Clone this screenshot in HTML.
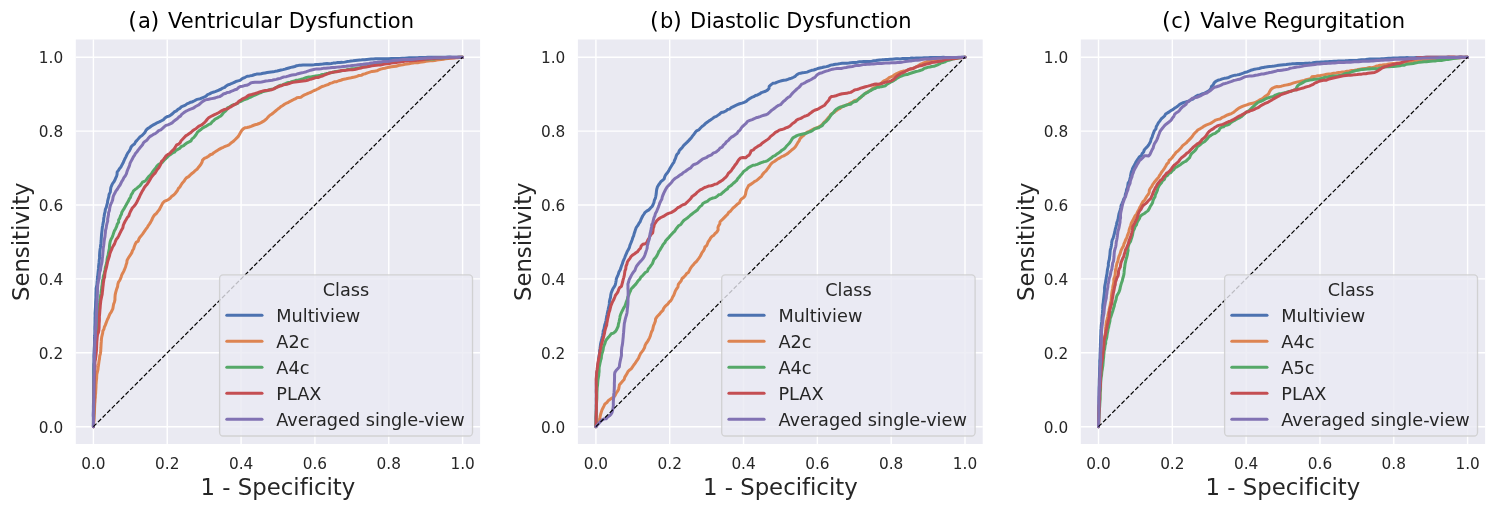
<!DOCTYPE html><html><head><meta charset="utf-8"><title>ROC curves</title><style>html,body{margin:0;padding:0;background:#fff;}svg{display:block;will-change:transform;}text{font-family:'DejaVu Sans', 'Liberation Sans', sans-serif;fill:#262626;font-variant-ligatures:none;font-feature-settings:"liga" 0,"clig" 0;}</style></head><body>
<svg width="1500" height="507" viewBox="0 0 1500 507">
<rect x="0" y="0" width="1500" height="507" fill="#ffffff"/>
<g>
<rect x="75.8" y="39.5" width="404.3" height="404.5" fill="#EAEAF2"/>
<line x1="93.4" y1="39.5" x2="93.4" y2="444" stroke="#fff" stroke-width="1.4"/>
<line x1="75.8" y1="426.7" x2="480.1" y2="426.7" stroke="#fff" stroke-width="1.4"/>
<line x1="167.24" y1="39.5" x2="167.24" y2="444" stroke="#fff" stroke-width="1.4"/>
<line x1="75.8" y1="352.8" x2="480.1" y2="352.8" stroke="#fff" stroke-width="1.4"/>
<line x1="241.08" y1="39.5" x2="241.08" y2="444" stroke="#fff" stroke-width="1.4"/>
<line x1="75.8" y1="278.9" x2="480.1" y2="278.9" stroke="#fff" stroke-width="1.4"/>
<line x1="314.92" y1="39.5" x2="314.92" y2="444" stroke="#fff" stroke-width="1.4"/>
<line x1="75.8" y1="205" x2="480.1" y2="205" stroke="#fff" stroke-width="1.4"/>
<line x1="388.76" y1="39.5" x2="388.76" y2="444" stroke="#fff" stroke-width="1.4"/>
<line x1="75.8" y1="131.1" x2="480.1" y2="131.1" stroke="#fff" stroke-width="1.4"/>
<line x1="462.6" y1="39.5" x2="462.6" y2="444" stroke="#fff" stroke-width="1.4"/>
<line x1="75.8" y1="57.2" x2="480.1" y2="57.2" stroke="#fff" stroke-width="1.4"/>
<path d="M93.4,426.7 L93.41,424.6 L93.44,422.34 L93.44,420.18 L93.36,417.79 L93.28,415.75 L93.33,413.61 L93.4,411.38 L93.42,409.1 L93.39,406.77 L93.44,404.42 L93.52,402.06 L93.5,399.71 L93.61,397.39 L93.59,395.11 L93.6,392.9 L93.69,390.78 L93.66,388.74 L93.64,386.71 L93.67,384.69 L93.67,382.66 L93.64,380.64 L93.66,378.61 L93.67,376.59 L93.68,374.56 L93.64,372.54 L93.61,370.51 L93.65,368.49 L93.68,366.46 L93.71,364.44 L93.92,362.42 L93.94,360.39 L93.92,358.37 L93.85,356.34 L93.93,354.31 L94.07,352.29 L94.14,350.24 L94.25,348.17 L94.42,346.08 L94.48,343.97 L94.52,341.85 L94.51,339.72 L94.51,337.59 L94.71,335.48 L94.8,333.37 L94.85,331.28 L94.77,329.21 L94.8,327.17 L94.9,325.17 L94.97,322.72 L94.98,320.34 L94.98,318.04 L95.11,315.85 L95.02,313.45 L95.2,311.18 L95.34,309.03 L95.5,306.96 L95.56,304.48 L95.63,302.08 L95.8,299.72 L95.95,297.36 L95.93,294.97 L96.01,292.52 L96.14,290.49 L96.11,288.47 L96.53,286.5 L96.94,284.5 L97.08,282.47 L97.26,280.42 L97.38,278.37 L97.69,276.33 L97.91,274.28 L98.11,272.23 L98.34,270.19 L98.55,268.16 L98.61,266.13 L98.86,264.13 L99.09,262.13 L99.23,260.03 L99.63,257.94 L99.52,255.8 L99.66,253.69 L99.8,251.59 L100.06,249.52 L100.46,247.47 L100.59,245.43 L100.91,243.45 L101.14,241 L101.28,238.61 L101.43,236.18 L101.6,233.88 L101.88,231.63 L102.14,229.42 L102.35,227.26 L102.74,225.18 L103.06,223.17 L103.64,220.81 L103.7,218.52 L104.11,216.45 L104.47,213.92 L105.06,211.84 L105.35,209.48 L106.29,207.39 L106.83,205.03 L107.41,203.06 L107.66,200.94 L108.19,198.88 L108.75,196.88 L109.09,194.48 L110.3,192.16 L110.53,189.96 L110.86,187.5 L111.83,185.2 L112.69,183.35 L113.98,181.77 L114.94,179.99 L115.66,178.12 L116.51,176.28 L117.08,174.3 L117.15,172.11 L118.42,170.34 L119.64,168.44 L121.1,166.72 L121.97,164.88 L123.02,163.06 L123.95,160.95 L124.76,158.98 L125.91,156.86 L126.79,154.87 L127.84,152.84 L129.24,151.11 L130.39,148.88 L131.16,146.86 L132.65,145.31 L134.46,144.11 L135.54,141.83 L136.95,140.4 L138.48,138.61 L140.12,136.69 L142.02,135.54 L143.71,133.82 L145.08,132.2 L146.08,130.16 L147.65,128.63 L149.48,127.49 L151.44,125.96 L153.34,124.86 L155.24,123.9 L157,122.78 L159.25,121.89 L161.5,120.72 L163.56,119.63 L164.96,117.94 L166.87,116.76 L169.07,116.12 L170.83,115.03 L172.76,113.49 L174.36,111.88 L176.44,110.82 L177.97,109.32 L179.83,108.35 L181.3,106.9 L183.12,106.02 L185.39,105.09 L186.95,103.87 L188.84,103.1 L190.69,102.2 L192.67,101.68 L194.5,100.74 L196.33,99.67 L198.32,99.14 L200.39,98.74 L202.32,97.87 L204.2,97 L206.12,96.15 L207.61,94.57 L209.54,93.88 L211.31,92.87 L213.22,92.19 L215.17,91.6 L217.05,90.83 L218.98,90.02 L220.93,89.26 L222.71,88.09 L224.71,87.36 L226.21,85.93 L227.97,84.9 L230.01,84.22 L231.89,83.45 L233.68,82.66 L235.79,81.56 L238.09,80.92 L240.07,80.42 L241.38,79.34 L243.36,78.1 L245.2,77.28 L247.24,76.26 L249.64,75.9 L252.02,75.45 L254.22,74.76 L256.61,74.1 L259.11,73.99 L261.11,73.75 L263.1,73.27 L265.12,72.92 L267.14,72.58 L269.13,72.21 L271.12,71.91 L273.18,71.85 L275.15,71.35 L277.14,71.05 L279.1,70.53 L281.06,70.04 L283.05,69.64 L285.02,69.11 L286.95,68.47 L288.88,67.94 L290.83,67.36 L292.84,66.92 L294.86,66.5 L296.79,65.67 L298.84,65.36 L300.9,65.2 L302.95,64.98 L305,64.93 L307.5,64.93 L310,64.95 L312.02,64.93 L314.08,64.81 L316.19,64.57 L318.31,64.5 L320.75,64.25 L322.79,64.04 L324.87,63.72 L327,63.58 L329.16,63.7 L331.27,63.54 L333.3,63.1 L335.77,62.9 L337.77,62.49 L339.85,62.46 L342.28,62.37 L344.62,62.13 L346.96,61.6 L348.95,61.37 L351.07,60.99 L353.09,60.78 L355.35,60.48 L357.68,60.22 L360.1,60.12 L362.58,59.77 L364.64,59.65 L366.74,59.39 L368.92,59.2 L371.15,59.01 L373.33,58.97 L375.63,58.78 L377.99,58.68 L380.42,58.71 L382.9,58.69 L384.92,58.68 L386.98,58.64 L389.07,58.68 L391.17,58.55 L393.31,58.6 L395.47,58.53 L397.64,58.46 L399.84,58.5 L402.22,58.24 L404.65,58.2 L407.12,57.92 L409.12,57.83 L411.15,57.86 L413.2,57.81 L415.25,57.76 L417.32,57.66 L419.38,57.55 L421.46,57.48 L423.53,57.45 L425.59,57.4 L427.65,57.29 L429.69,57.22 L431.73,57.17 L433.84,57.23 L436.06,57.25 L438.34,57.16 L440.68,57.21 L443.04,57.24 L445.39,57.18 L447.72,57.12 L450,57.1 L452.2,57.18 L454.29,57.2 L456.73,57.23 L458.92,57.2 L461.14,57.2 L462.6,57.2" fill="none" stroke="#4C72B0" stroke-width="3.0" stroke-linejoin="round" stroke-linecap="round"/>
<path d="M93.4,426.7 L93.6,424.3 L93.79,421.96 L94.01,419.83 L94.17,417.53 L94.25,415.15 L94.4,412.76 L94.51,410.44 L94.56,408.06 L94.68,405.59 L94.78,403.56 L94.99,401.5 L95.06,399.41 L95.34,397.31 L95.36,395.2 L95.64,393.1 L95.71,391.02 L95.86,388.98 L95.97,386.92 L95.98,384.84 L96.18,382.76 L96.32,380.68 L96.63,378.62 L96.7,376.56 L96.79,374.53 L97.35,372.09 L97.93,369.68 L98.13,367.57 L98.45,365.53 L98.7,363.51 L99.05,361.05 L99.52,358.64 L99.72,356.2 L100.34,353.83 L100.67,351.83 L100.77,349.75 L100.92,347.7 L101.02,345.66 L101.12,343.64 L101.29,341.63 L101.4,339.63 L101.69,337.15 L102.17,335.18 L102.67,333.19 L102.86,331.08 L103.9,329.26 L104.34,327.22 L105.2,325.34 L105.95,323.41 L106.66,321.47 L107.41,319.56 L108.36,317.74 L109.06,315.81 L109.92,313.93 L111.17,312.23 L112.03,310.37 L112.88,308.52 L113.27,306.02 L113.67,304.06 L114.39,302.18 L114.94,299.8 L114.97,297.33 L115.17,294.87 L115.58,292.88 L116.14,290.85 L116.72,288.91 L117.6,286.66 L117.88,284.15 L118.46,282.22 L119.68,280.5 L120.51,278.61 L121.25,276.68 L121.85,274.66 L122.94,272.84 L124.03,270.6 L124.8,268.69 L125.61,266.75 L126.12,264.66 L126.84,262.67 L127.03,260.48 L127.96,258.67 L129.24,256.56 L130.6,254.68 L131.81,252.64 L132.54,250.54 L133.65,248.74 L134.23,246.79 L135.09,244.5 L136.15,242.37 L138.22,241.17 L138.88,239.03 L139.89,237.19 L141.28,235.67 L142.55,234.1 L143.72,232.42 L144.9,230.71 L146.01,228.96 L147.37,227.36 L148.32,225.53 L149.54,223.86 L150.65,222.13 L151.66,220.35 L152.46,218.34 L153.49,216.45 L154.74,214.75 L156.42,213.45 L157.89,211.41 L159.24,209.76 L160.42,207.55 L161.56,205.31 L162.59,203.36 L164.29,201.47 L166.66,200.46 L168.42,199.42 L170.12,198.2 L171.55,196.56 L173.3,195.28 L175.1,193.66 L176.31,192 L177.54,190.27 L178.45,188.29 L180.03,186.81 L181.05,184.98 L182.43,182.94 L183.95,181.34 L185.07,179.52 L186.36,177.91 L188.61,176.62 L190.36,174.84 L191.89,173.5 L193.61,172.22 L195.19,170.64 L197.01,169.29 L198.33,167.52 L199.6,165.94 L200.92,164.28 L201.99,162.27 L202.55,160.04 L204.35,158.38 L206.66,157.38 L208.52,156.24 L210.25,154.76 L212.34,154.04 L213.85,152.69 L215.62,151.59 L217.34,150.42 L219.12,149.34 L221.34,148.12 L223.27,147.27 L225.19,146.33 L227.16,145.59 L229.11,144.78 L230.66,143.3 L232.38,142.09 L233.99,140.75 L235.51,139.26 L237.08,137.67 L238.49,136.13 L239.54,134.19 L240.64,132.34 L241.67,130.61 L243.26,128.87 L245.03,127.8 L247.05,127.46 L249.13,127.03 L251.12,126.31 L253.08,125.5 L255.13,124.77 L257.18,124.23 L259.11,123.52 L261.04,122.65 L263.17,121.4 L264.86,120.22 L266.55,118.86 L267.99,117.11 L269.89,115.29 L271.92,114.01 L273.61,112.55 L275.53,110.97 L277.17,109.61 L278.91,108.29 L280.6,106.85 L282.44,105.67 L284.18,104.44 L285.95,103.48 L287.91,102.67 L289.66,101.55 L291.53,100.69 L293.33,99.74 L295.21,98.95 L296.91,97.83 L298.94,97.4 L301.09,97.23 L302.67,95.84 L304.5,94.94 L306.36,94.19 L308.57,93.06 L310.95,92.29 L312.7,91.27 L314.55,90.37 L316.48,89.51 L318.37,88.59 L320.51,87.38 L322.33,86.46 L324.31,85.86 L326.26,85.09 L328.29,84.54 L330.08,83.38 L332.07,82.88 L334.33,81.86 L336.72,81.64 L338.74,80.75 L340.77,80.25 L342.66,79.52 L345.06,79.08 L347.38,78.45 L349.78,78.11 L352.22,77.56 L354.61,77.04 L356.92,76.38 L359.12,75.39 L361.62,75.16 L363.41,74.11 L365.48,73.7 L367.52,72.82 L369.81,72.13 L372.03,71.42 L374.44,71.14 L376.9,70.82 L378.74,69.9 L380.69,69.15 L382.73,68.58 L384.87,68.19 L387.02,67.61 L389.14,67.17 L391.38,66.77 L393.7,66.47 L396.09,66.23 L398.43,65.55 L400.86,65.03 L402.86,64.72 L404.87,64.36 L406.92,64.04 L409,63.73 L411.06,63.24 L413.21,63.09 L415.32,62.56 L417.76,62.68 L419.74,62.28 L421.8,62.03 L423.9,61.68 L426.02,61.25 L428.19,61.02 L430.36,60.71 L432.56,60.79 L434.68,60.49 L436.73,59.97 L438.77,59.78 L441.2,59.55 L443.47,59.15 L445.56,58.81 L448.22,58.56 L450.35,58.37 L452.94,58.05 L455.29,57.83 L457.38,57.71 L459.62,57.48 L461.76,57.27 L462.6,57.2" fill="none" stroke="#DD8452" stroke-width="3.0" stroke-linejoin="round" stroke-linecap="round"/>
<path d="M93.4,426.7 L93.41,424.6 L93.42,422.34 L93.45,420.17 L93.58,417.79 L93.66,415.75 L93.67,413.61 L93.71,411.39 L93.62,409.1 L93.62,406.77 L93.58,404.42 L93.62,402.06 L93.54,399.71 L93.69,397.39 L93.66,395.11 L93.63,392.9 L93.69,390.77 L93.7,388.74 L93.74,386.71 L93.87,384.69 L93.94,382.66 L93.98,380.64 L93.98,378.61 L94.11,376.59 L94.09,374.57 L94.11,372.54 L94.18,370.52 L94.17,368.49 L94.31,366.47 L94.31,364.44 L94.47,362.42 L94.54,360.39 L94.55,358.37 L94.67,356.34 L94.84,354.32 L94.82,352.3 L94.92,350.27 L94.92,348.22 L95.17,346.16 L95.34,344.08 L95.5,341.99 L95.68,339.9 L96.1,337.82 L96.06,335.71 L96.18,333.63 L96.53,331.58 L96.62,329.53 L96.95,327.53 L96.97,325.04 L97.21,322.63 L97.34,320.28 L97.49,318.01 L97.8,315.85 L98.1,313.49 L98.42,311.23 L98.5,309.03 L98.75,306.93 L99.02,304.9 L99.54,302.47 L99.98,300.1 L100.23,297.76 L100.62,295.47 L101.04,293.2 L101.26,290.89 L101.64,288.89 L101.81,286.73 L102.19,284.64 L102.35,282.55 L102.6,280.51 L103.13,278.54 L103.36,276.54 L104.07,274.14 L104.66,271.73 L105.11,269.3 L105.4,267.32 L106.07,265.3 L106.6,263.23 L106.95,261.12 L107.12,258.99 L107.51,256.92 L108.22,254.96 L108.44,252.96 L108.93,250.62 L109.42,248.44 L109.5,245.87 L109.84,243.54 L110.23,241.46 L111.05,239.19 L112.2,237.18 L112.96,235.05 L113.6,233.1 L114.46,230.78 L115.66,228.68 L116.68,226.41 L117.2,224.28 L118.62,222.22 L118.64,219.99 L119.78,218.13 L120.4,216.06 L121.43,214.2 L121.87,212.19 L122.91,210.4 L124.15,208.62 L125.12,206.79 L126.1,205.05 L127.22,202.94 L128.48,200.9 L129.35,198.93 L130.49,197.3 L131.2,194.91 L132.58,192.86 L133.49,190.92 L135.07,189.57 L136.74,188.37 L138.19,186.96 L139.93,185.74 L141.27,184.03 L142.46,182.21 L144.47,181.35 L146.16,180.15 L147.45,178.17 L148.99,176.24 L150.54,174.84 L151.99,172.92 L153.15,171.16 L154.46,169.38 L155.95,167.65 L157.13,165.8 L158.72,164.35 L160.86,163.29 L162.73,161.95 L164.08,160.22 L165.77,158.57 L167.27,157.18 L168.67,155.68 L170.43,154.59 L172.3,153.01 L174.44,152.21 L175.93,150.37 L177.79,149.33 L179.64,148.44 L181.35,146.51 L183.69,145.61 L185.23,144.17 L187.13,142.77 L189.07,141.89 L191,140.85 L191.98,138.84 L193.68,137.59 L194.99,135.99 L196.26,134.28 L197.32,132.4 L198.88,131 L200.89,129.52 L202.43,128.2 L204.17,127.13 L206.37,126.04 L208.44,124.64 L210.39,123.89 L212.09,121.96 L213.63,120.59 L215.13,119.13 L217.13,118.23 L218.88,117.06 L220.8,115.95 L222.28,114.38 L223.54,112.67 L225.08,111.36 L226.48,109.91 L227.54,107.94 L229.34,107 L231.39,105.67 L233.72,104.77 L235.66,104.13 L237.5,103.42 L239.01,101.98 L240.89,101.31 L242.75,100.38 L244.76,99.46 L246.88,98.89 L248.68,97.87 L250.96,97.04 L253.01,95.93 L254.92,95.18 L257.12,94.19 L259.29,93.1 L261.31,92.49 L263.3,91.52 L265.54,91.09 L267.68,90.48 L269.7,89.78 L271.63,89.13 L273.7,88.87 L275.88,87.67 L278.03,86.43 L280.25,85.29 L282.41,85.23 L284.2,84.1 L286.19,83.27 L288.46,82.5 L290.46,82.17 L292.37,81.41 L294.44,81.07 L296.37,80.21 L298.44,79.88 L300.46,79.51 L302.39,79.03 L304.63,78.16 L306.62,77.42 L308.7,77.09 L310.75,76.99 L313.16,76.42 L315.57,76.04 L317.99,75.67 L320.44,75.24 L322.37,74.52 L324.39,74.21 L326.34,73.6 L328.35,73.24 L330.34,72.79 L332.34,72.47 L334.27,71.82 L336.22,71.39 L338.24,71.14 L340.25,70.92 L342.23,70.51 L344.21,70.21 L346.19,69.87 L348.17,69.47 L350.18,69.26 L352.14,68.64 L354.53,68.68 L356.64,68.23 L358.82,68.12 L361.05,67.55 L363.06,67.01 L365.44,66.71 L367.47,66.45 L369.71,65.88 L371.75,65.19 L373.99,64.8 L376.37,64.38 L378.34,63.95 L380.4,63.75 L382.52,63.66 L384.63,63.29 L386.78,63.01 L388.92,62.68 L391.07,62.37 L393.2,62.08 L395.29,61.72 L397.33,61.28 L399.35,61.02 L401.36,60.73 L403.39,60.51 L405.44,60.46 L407.47,60.39 L409.5,60.32 L411.52,60.01 L413.54,59.92 L415.56,59.78 L417.58,59.52 L419.6,59.47 L421.62,59.36 L423.65,59.36 L425.67,59.31 L427.69,59.17 L429.71,59 L431.75,58.96 L433.86,58.89 L436.07,58.63 L438.34,58.28 L440.68,58.14 L443.04,58.11 L445.39,57.78 L447.72,57.68 L449.99,57.62 L452.19,57.44 L454.29,57.49 L456.73,57.4 L458.91,57.31 L461.14,57.24 L462.6,57.2" fill="none" stroke="#55A868" stroke-width="3.0" stroke-linejoin="round" stroke-linecap="round"/>
<path d="M93.4,426.7 L93.48,424.54 L93.55,422.15 L93.62,419.84 L93.62,417.81 L93.61,415.66 L93.71,413.42 L93.72,411.09 L93.87,408.72 L93.91,406.32 L93.94,403.93 L93.98,401.56 L94.22,399.25 L94.14,397.01 L94.05,394.87 L94.13,392.87 L94.14,390.58 L94.16,388.43 L94.18,385.91 L94.21,383.56 L94.3,381.35 L94.47,379.26 L94.43,376.8 L94.63,374.48 L94.65,372.26 L94.77,370.11 L94.87,368 L95.11,365.76 L94.83,363.51 L94.97,361.47 L95.49,359.12 L95.76,356.79 L96.08,354.36 L96.25,352.31 L96.47,350.28 L96.55,348.11 L96.64,345.89 L96.73,343.67 L96.83,341.52 L97.03,339.51 L97.2,337.29 L97.51,334.7 L98.42,332.48 L98.9,329.89 L99.08,327.67 L99.1,325.38 L99.15,323.35 L99.34,321.19 L99.41,318.92 L99.36,316.6 L99.6,314.3 L99.77,312.04 L99.93,309.86 L100.14,307.83 L100.27,305.54 L100.52,303.23 L100.77,300.97 L101.15,298.95 L101.62,296.63 L102.16,294.4 L102.36,292.03 L102.64,289.99 L102.83,287.57 L103.16,285.13 L103.33,283.14 L103.65,281.13 L103.94,279.11 L104.6,277.12 L104.75,275.03 L105.05,272.96 L105.55,270.53 L106.1,268.55 L106.62,266.53 L107.05,264.48 L107.47,262.43 L107.98,260.45 L108.78,258.1 L109.51,255.88 L109.84,253.82 L110.65,251.65 L111.56,249.63 L112.31,247.64 L113.29,245.88 L114.56,243.88 L115.33,241.62 L116.16,239.58 L117.67,237.81 L118.84,235.59 L119.86,233.43 L120.87,231.28 L121.85,229.53 L122.87,227.68 L123.23,225.42 L124.04,223.52 L125.15,221.27 L126.22,219.45 L127.31,217.61 L128.79,215.97 L129.39,213.97 L130.33,211.7 L131.38,209.84 L132.29,207.97 L133.75,206.51 L135.07,204.99 L136.44,202.88 L137.39,201.06 L138.24,199.22 L139.4,197.03 L140.36,194.71 L141.31,192.93 L142.28,191.08 L143.42,189.42 L144.36,187.52 L145.7,185.79 L147.18,184.16 L148.32,182.41 L149.54,180.39 L150.82,178.27 L151.92,176.56 L153.4,174.81 L155.03,173.16 L156.19,171.25 L157.27,169.49 L158.83,167.81 L159.93,165.8 L160.92,163.76 L161.4,161.53 L163.25,159.83 L164.61,157.94 L165.9,155.94 L167.68,154.63 L169.82,153.44 L171.44,151.52 L172.93,150.18 L174.38,148.66 L175.48,146.74 L176.68,144.96 L178.67,144.04 L180.22,142.66 L181.14,140.69 L182.57,139.2 L183.97,137.71 L185.74,135.89 L187.59,134.79 L189.29,133.6 L190.95,132.43 L192.38,130.97 L194.06,129.8 L195.91,128.75 L197.43,127.32 L199.08,126.04 L201.13,125.21 L202.83,123.93 L204.5,122.57 L205.93,120.95 L207.25,119.28 L208.67,117.81 L210.39,116.75 L212.19,115.79 L213.98,114.9 L216.25,113.91 L218.49,112.76 L220.22,111.66 L221.99,110.69 L223.74,109.7 L225.72,109.15 L227.76,108.67 L229.51,107.48 L231.4,106.57 L233.12,105.31 L235.36,104.2 L237.18,103.16 L238.62,101.52 L240.4,100.35 L242.1,99.11 L244.1,98.22 L246.05,97.27 L247.67,95.93 L249.63,94.92 L251.78,94.49 L254.59,93.61 L256.83,93.06 L259.02,92.13 L261.03,91.56 L263.12,90.89 L265.34,90.5 L267.59,90.28 L269.74,89.95 L271.82,89.66 L273.75,88.87 L275.61,87.94 L277.46,86.98 L279.39,86.23 L281.42,85.82 L283.2,84.71 L285.25,84.45 L287.25,84.15 L289.16,83.51 L291.08,82.84 L293.03,82.3 L295.02,82.02 L297.01,81.67 L299.01,81.42 L301.03,81.18 L303.06,80.98 L305.1,80.85 L307.51,80.22 L309.88,79.41 L311.85,78.96 L313.8,78.27 L315.82,77.61 L318.06,77.49 L320.36,76.66 L322.3,76.01 L324.25,75.18 L326.23,74.37 L328.22,73.51 L330.24,72.86 L332.26,72.35 L334.28,72.12 L336.64,71.69 L338.8,71.22 L340.87,70.83 L342.88,70.55 L345.33,70.38 L347.74,70.07 L350.18,69.87 L352.2,69.7 L354.54,69.49 L356.64,68.99 L358.71,68.38 L360.98,67.95 L362.99,67.36 L365.36,67.04 L367.4,66.8 L369.65,66.27 L371.72,65.82 L373.96,65.41 L376.37,65.25 L378.36,65.03 L380.43,64.93 L382.5,64.56 L384.58,63.95 L386.73,63.73 L388.91,63.7 L391.01,63.09 L393.15,62.88 L395.27,62.66 L397.31,62.22 L399.32,61.92 L401.3,61.48 L403.32,61.42 L405.31,61.1 L407.32,61.01 L409.32,60.78 L411.32,60.64 L413.32,60.48 L415.34,60.58 L417.33,60.31 L419.81,60.02 L422.28,59.65 L424.76,59.32 L427.23,58.88 L429.72,58.74 L431.73,58.6 L433.84,58.52 L436.05,58.24 L438.34,58.23 L440.68,58.05 L443.03,57.91 L445.39,57.77 L447.72,57.79 L450,57.75 L452.2,57.66 L454.3,57.63 L456.73,57.46 L458.92,57.36 L461.14,57.26 L462.6,57.2" fill="none" stroke="#C44E52" stroke-width="3.0" stroke-linejoin="round" stroke-linecap="round"/>
<path d="M93.4,426.7 L93.42,424.6 L93.45,422.34 L93.45,420.17 L93.5,417.79 L93.39,415.75 L93.37,413.6 L93.47,411.38 L93.49,409.1 L93.6,406.77 L93.6,404.42 L93.7,402.06 L93.69,399.71 L93.69,397.39 L93.72,395.11 L93.78,392.9 L93.76,390.78 L93.87,388.74 L93.89,386.71 L93.85,384.69 L93.94,382.66 L93.98,380.64 L93.93,378.61 L93.94,376.59 L94.11,374.57 L94.22,372.54 L94.24,370.52 L94.28,368.49 L94.19,366.47 L94.23,364.44 L94.25,362.42 L94.26,360.39 L94.39,358.37 L94.41,356.34 L94.46,354.32 L94.51,352.29 L94.59,350.25 L94.67,348.18 L94.72,346.1 L94.81,344 L94.76,341.89 L95.05,339.79 L95.19,337.68 L95.45,335.59 L95.4,333.49 L95.37,331.4 L95.65,329.35 L95.7,327.31 L95.91,325.31 L96.03,322.85 L96.14,320.44 L96.28,318.11 L96.35,315.85 L96.45,313.54 L96.58,311.31 L96.63,309.15 L96.58,307.04 L96.71,304.99 L96.94,303 L97.1,300.55 L97.13,298.14 L97.35,295.77 L97.38,293.39 L97.48,291.01 L97.46,288.59 L97.63,286.53 L97.79,284.43 L98.24,282.37 L98.53,280.29 L99.21,278.29 L99.26,276.2 L99.47,274.15 L99.72,272.13 L100.45,270.22 L100.71,267.77 L101.19,265.42 L101.74,263.14 L102.1,261.02 L102.27,258.82 L102.56,256.7 L102.77,254.62 L102.9,252.57 L103.1,250.58 L103.23,248.12 L103.66,245.73 L103.95,243.36 L104.19,240.85 L104.5,238.7 L104.95,236.62 L105.14,234.54 L105.41,232.51 L105.48,230.49 L106.16,228.08 L106.48,225.65 L107.06,223.18 L107.7,221.11 L107.64,218.92 L108.08,216.87 L108.47,214.84 L108.59,212.77 L109.47,210.44 L109.74,207.95 L110.22,205.81 L110.97,203.76 L111.87,201.82 L112.63,199.93 L112.99,197.53 L113.6,195.43 L114.78,193.32 L115.83,191.18 L117.31,189.24 L118.34,187.47 L119.81,185.44 L120.78,183.56 L121.66,181.61 L122.86,179.92 L123.91,177.68 L125.21,175.98 L126.37,173.87 L127.06,171.38 L127.81,169.44 L128.87,167.19 L129.56,165.2 L130.1,163.09 L131.09,161.16 L132.17,159.35 L133.22,157.09 L134.62,155.04 L135.62,153.26 L137.07,151.7 L138.31,149.84 L139.82,148 L141.1,146.41 L142.51,144.86 L143.43,142.85 L145,141.43 L146.76,140.29 L148.27,138.29 L149.77,136.68 L151.64,135.63 L153.33,134.45 L155.24,133.65 L157.18,132.13 L158.66,130.65 L160.83,129.83 L162.53,128.34 L164.13,126.9 L165.93,125.41 L167.95,124.88 L170.16,123.92 L172.1,122.88 L173.65,121.44 L175.41,120.01 L177.26,118.73 L178.67,117.16 L180.44,116.1 L181.66,114.36 L183.63,112.84 L185.64,111.41 L187.49,110.52 L189.31,109.6 L191.21,108.9 L193.55,108.02 L195.2,106.75 L196.95,105.73 L198.74,104.83 L200.32,103.5 L201.85,102.07 L203.54,100.92 L205.34,99.87 L207.57,99.6 L209.6,99.02 L211.65,98.62 L213.67,98.2 L215.64,97.68 L217.59,97.09 L219.73,96.65 L221.56,95.56 L223.19,94.04 L225.27,93.58 L227.1,92.56 L229.19,92.29 L231.05,91.35 L233.05,90.68 L234.87,89.78 L236.87,89.21 L238.45,87.59 L240.32,86.53 L242.43,86.2 L244.53,85.61 L246.67,85.34 L248.87,84.34 L250.7,82.98 L252.79,82.41 L254.96,82.15 L257.06,82.32 L259.47,82.19 L261.57,81.95 L263.73,81.5 L265.92,80.96 L268.13,80.74 L270.24,80.45 L272.31,80.22 L274.3,79.64 L276.35,79.38 L278.32,78.79 L280.33,78.36 L282.23,77.5 L284.19,76.88 L286.27,76.68 L288.2,76.11 L290.13,75.5 L292.11,75.08 L294.12,74.76 L296.12,74.41 L298.05,73.71 L300.02,73.21 L302.02,72.84 L303.98,72.33 L306.39,71.68 L308.73,70.83 L310.64,70.18 L312.62,69.71 L314.65,69.28 L316.75,68.89 L318.81,68.95 L321.08,68.69 L323.32,68.37 L325.62,68.24 L328.03,68.02 L330.09,67.84 L332.3,67.45 L334.74,67.41 L337.1,67.13 L339.2,66.91 L341.45,66.77 L343.79,66.49 L346.25,66.3 L348.24,65.91 L350.31,65.75 L352.39,65.51 L354.51,65.35 L356.63,65.09 L358.74,64.69 L360.87,64.5 L362.98,64.32 L365.05,64.02 L367.09,63.71 L369.09,63.39 L371.08,62.98 L373.08,62.72 L375.09,62.38 L377.12,62.33 L379.14,62.08 L381.17,61.9 L383.18,61.58 L385.21,61.46 L387.25,61.44 L389.27,61.25 L391.28,60.89 L393.28,60.53 L395.3,60.35 L397.31,60.23 L399.33,60.1 L401.35,59.83 L403.37,59.58 L405.42,59.59 L407.46,59.6 L409.49,59.43 L411.52,59.43 L413.54,59.2 L415.56,58.99 L417.57,58.71 L419.59,58.58 L421.61,58.44 L423.63,58.33 L425.65,58.16 L427.67,58.07 L429.7,58.1 L431.73,58.06 L433.84,57.84 L436.06,57.86 L438.35,57.8 L440.68,57.67 L443.04,57.56 L445.39,57.43 L447.72,57.43 L450,57.37 L452.2,57.35 L454.29,57.21 L456.73,57.15 L458.91,57.14 L461.14,57.18 L462.6,57.2" fill="none" stroke="#8172B3" stroke-width="3.0" stroke-linejoin="round" stroke-linecap="round"/>
<line x1="93.4" y1="426.7" x2="462.6" y2="57.2" stroke="#000" stroke-width="1.2" stroke-dasharray="4.4 2.1"/>
<rect x="219.6" y="274.9" width="252.9" height="161.1" rx="3.5" ry="3.5" fill="#EAEAF2" fill-opacity="0.8" stroke="#CCCCCC" stroke-opacity="0.85" stroke-width="1.3"/>
<text x="346.05" y="296.0" font-size="17.7" text-anchor="middle">Class</text>
<line x1="226.8" y1="315.3" x2="262" y2="315.3" stroke="#4C72B0" stroke-width="3.0" stroke-linecap="round"/>
<text x="276.3" y="321.9" font-size="17.7">Multiview</text>
<line x1="226.8" y1="341.3" x2="262" y2="341.3" stroke="#DD8452" stroke-width="3.0" stroke-linecap="round"/>
<text x="276.3" y="347.9" font-size="17.7">A2c</text>
<line x1="226.8" y1="367.3" x2="262" y2="367.3" stroke="#55A868" stroke-width="3.0" stroke-linecap="round"/>
<text x="276.3" y="373.9" font-size="17.7">A4c</text>
<line x1="226.8" y1="393.3" x2="262" y2="393.3" stroke="#C44E52" stroke-width="3.0" stroke-linecap="round"/>
<text x="276.3" y="399.9" font-size="17.7">PLAX</text>
<line x1="226.8" y1="419.3" x2="262" y2="419.3" stroke="#8172B3" stroke-width="3.0" stroke-linecap="round"/>
<text x="276.3" y="425.9" font-size="17.7">Averaged single-view</text>
<text x="93.4" y="469.2" font-size="15.3" text-anchor="middle">0.0</text>
<text x="63.2" y="432.9" font-size="15.3" text-anchor="end">0.0</text>
<text x="167.24" y="469.2" font-size="15.3" text-anchor="middle">0.2</text>
<text x="63.2" y="359" font-size="15.3" text-anchor="end">0.2</text>
<text x="241.08" y="469.2" font-size="15.3" text-anchor="middle">0.4</text>
<text x="63.2" y="285.1" font-size="15.3" text-anchor="end">0.4</text>
<text x="314.92" y="469.2" font-size="15.3" text-anchor="middle">0.6</text>
<text x="63.2" y="211.2" font-size="15.3" text-anchor="end">0.6</text>
<text x="388.76" y="469.2" font-size="15.3" text-anchor="middle">0.8</text>
<text x="63.2" y="137.3" font-size="15.3" text-anchor="end">0.8</text>
<text x="462.6" y="469.2" font-size="15.3" text-anchor="middle">1.0</text>
<text x="63.2" y="63.4" font-size="15.3" text-anchor="end">1.0</text>
<text x="277.95" y="494.8" font-size="22.8" text-anchor="middle">1 - Specificity</text>
<text transform="translate(29,241.75) rotate(-90)" x="0" y="0" font-size="22.8" text-anchor="middle">Sensitivity</text>
<text x="128.37" y="28.8" font-size="22.5" style="fill:#000">(</text>
<text x="138.04" y="27.6" font-size="21.0" style="fill:#000">a</text>
<text x="150.5" y="28.8" font-size="22.5" style="fill:#000">)</text>
<text x="168.03" y="27.6" font-size="21.0" style="fill:#000">Ventricular</text>
<text x="288.64" y="27.6" font-size="21.0" style="fill:#000">Dysfunction</text>
</g>
<g>
<rect x="577.9" y="39.5" width="404.8" height="404.5" fill="#EAEAF2"/>
<line x1="595.9" y1="39.5" x2="595.9" y2="444" stroke="#fff" stroke-width="1.4"/>
<line x1="577.9" y1="426.7" x2="982.7" y2="426.7" stroke="#fff" stroke-width="1.4"/>
<line x1="669.72" y1="39.5" x2="669.72" y2="444" stroke="#fff" stroke-width="1.4"/>
<line x1="577.9" y1="352.8" x2="982.7" y2="352.8" stroke="#fff" stroke-width="1.4"/>
<line x1="743.54" y1="39.5" x2="743.54" y2="444" stroke="#fff" stroke-width="1.4"/>
<line x1="577.9" y1="278.9" x2="982.7" y2="278.9" stroke="#fff" stroke-width="1.4"/>
<line x1="817.36" y1="39.5" x2="817.36" y2="444" stroke="#fff" stroke-width="1.4"/>
<line x1="577.9" y1="205" x2="982.7" y2="205" stroke="#fff" stroke-width="1.4"/>
<line x1="891.18" y1="39.5" x2="891.18" y2="444" stroke="#fff" stroke-width="1.4"/>
<line x1="577.9" y1="131.1" x2="982.7" y2="131.1" stroke="#fff" stroke-width="1.4"/>
<line x1="965" y1="39.5" x2="965" y2="444" stroke="#fff" stroke-width="1.4"/>
<line x1="577.9" y1="57.2" x2="982.7" y2="57.2" stroke="#fff" stroke-width="1.4"/>
<path d="M595.9,426.7 L595.93,424.41 L595.94,422.25 L595.94,419.73 L595.9,417.51 L596.1,415.15 L596.14,412.68 L596.16,410.15 L596.23,407.8 L596.22,405.54 L596.29,403.08 L596.26,401.01 L596.23,398.87 L596.29,396.69 L596.35,394.48 L596.25,392.28 L596.29,390.11 L596.33,387.98 L596.34,385.94 L596.29,383.53 L596.41,381.32 L596.48,379.15 L596.67,376.73 L596.98,374.61 L597.08,372.23 L597.46,370 L597.63,367.69 L597.91,365.7 L598.41,363.72 L598.4,361.24 L598.71,359.21 L598.83,357.11 L599.29,355.03 L599.67,352.96 L599.59,350.87 L600.02,348.44 L600.32,346.16 L600.56,343.98 L601.05,341.87 L601.63,339.92 L602.09,337.57 L602.69,335.3 L603.02,332.93 L603.25,330.9 L604.01,328.95 L604.34,326.92 L604.72,324.91 L605.4,322.98 L606.01,320.57 L606.34,318.58 L606.62,316.55 L607.09,314.61 L607.57,312.17 L608.12,309.74 L608.5,307.73 L609.09,305.77 L609.33,303.67 L609.43,301.53 L609.87,299.47 L610.5,297.53 L610.73,295.17 L611.18,292.99 L611.93,291.08 L612.87,288.83 L614.33,286.71 L615.29,284.86 L615.72,282.77 L616.1,280.65 L616.41,278.59 L617.38,276.49 L618.21,274.53 L618.83,272.31 L620.09,270.11 L620.84,268.12 L621.47,265.77 L622.34,263.85 L622.95,261.72 L623.86,259.63 L624.77,257.5 L625.59,255.3 L626.59,253.04 L627.38,251.17 L628.49,249.38 L629.41,247.5 L629.91,245.44 L630.71,243.51 L631.45,241.61 L632.17,239.71 L632.77,237.74 L633.62,235.85 L634.1,233.82 L634.82,231.9 L635.36,229.95 L636.17,227.64 L637.69,225.66 L638.77,223.72 L640.04,221.92 L640.79,219.95 L641.63,218.12 L642.66,215.99 L643.88,214.24 L645.06,212.41 L646.68,211.13 L648.85,209.87 L650.61,207.92 L652.24,206.46 L653.14,204.5 L653.94,202.45 L654.37,200.21 L655.31,198.32 L655.8,196.26 L656.19,194.08 L656.38,191.9 L656.68,189.48 L657.35,187.03 L658.41,185.22 L659.68,183.5 L660.9,181.72 L662.48,180.38 L664.16,178.91 L664.77,176.65 L665.76,174.68 L667.37,172.81 L668.53,171.15 L669.45,169.3 L670.51,167.51 L671.56,165.72 L672.63,163.96 L673.88,162.29 L674.55,160.26 L675.49,158.38 L676.1,156.34 L676.9,154.46 L678.55,152.64 L679.38,150.48 L680.88,148.91 L682.28,147.4 L683.75,145.41 L685.63,143.63 L687.2,142.12 L688.67,140.62 L690.04,139.14 L691.38,137.66 L692.61,135.88 L693.99,134.23 L695.17,132.53 L696.5,130.88 L698.74,129.91 L700.27,128.25 L702,126.54 L703.9,125.08 L705.4,123.58 L707.19,122.27 L709.03,120.86 L710.8,119.76 L712.75,118.38 L714.3,117.08 L716.38,116.36 L718.09,115.13 L719.79,113.92 L721.26,112.44 L723.87,111.91 L725.8,111.01 L727.45,109.56 L729.58,109.09 L731.19,107.68 L733.36,106.57 L735.34,105.6 L737.42,104.67 L739.67,103.74 L742,103.16 L744.09,102.4 L746.2,101.45 L748.09,99.73 L749.84,98.57 L751.67,97.41 L753.74,96.66 L755.47,95.49 L757.58,94.93 L759.62,93.97 L761.49,92.57 L763.59,91.87 L765.52,91.21 L767.41,90.14 L769.04,88.46 L769.2,86.27 L770.83,84.85 L772.82,83.35 L775.27,82.99 L777.26,82.2 L779.35,81.38 L781.55,80.8 L783.73,80.28 L785.91,80.04 L787.84,79.44 L789.7,78.68 L791.65,78.14 L793.48,77.27 L795.26,76.31 L796.81,74.76 L798.55,73.66 L800.52,73.16 L802.53,72.79 L804.59,72.54 L807.09,72.14 L809.38,71.17 L811.72,70.31 L813.72,69.96 L815.66,69.28 L817.62,68.54 L819.94,67.98 L822.11,67.5 L824.25,66.97 L826.49,66.63 L828.8,65.94 L830.76,65.11 L833.02,64.76 L835.51,64.27 L837.8,63.99 L839.96,63.61 L842.25,63.2 L844.7,63.26 L846.72,63.18 L848.77,63.02 L850.86,62.69 L852.99,62.56 L855.13,62.42 L857.28,62.21 L859.41,61.79 L861.56,61.76 L863.68,61.62 L865.77,61.54 L867.81,61.49 L869.84,61.41 L871.86,61.19 L873.86,60.8 L875.87,60.61 L877.88,60.36 L879.88,60.09 L881.89,59.87 L883.91,59.81 L885.92,59.6 L887.94,59.57 L889.93,59.2 L891.95,59.15 L893.96,58.89 L895.99,58.83 L898.02,58.85 L900.05,58.89 L902.54,58.59 L905.03,58.54 L907.53,58.41 L910.03,58.31 L912.02,58.09 L914.03,58.19 L916.03,58.11 L918.03,58 L920.04,58.03 L922.05,57.95 L924.06,57.71 L926.08,57.66 L928.1,57.65 L930.12,57.54 L932.15,57.56 L934.21,57.47 L936.38,57.55 L938.63,57.51 L940.93,57.43 L943.28,57.37 L945.64,57.43 L947.99,57.52 L950.3,57.46 L952.55,57.42 L954.73,57.48 L956.79,57.46 L959.2,57.42 L961.35,57.37 L963.55,57.26 L965,57.2" fill="none" stroke="#4C72B0" stroke-width="3.0" stroke-linejoin="round" stroke-linecap="round"/>
<path d="M595.9,426.7 L597.3,424.69 L598.21,422.58 L599.45,420.43 L599.89,418.32 L600.14,416.34 L600.66,414.26 L601.3,412.17 L601.92,410.17 L602.96,407.94 L604.02,405.91 L604.94,403.92 L606.91,402.54 L608.14,400.72 L609.89,399.54 L612.01,398.05 L613.79,397.03 L615.15,395.28 L616.18,393.13 L617.39,391.4 L618.56,389.48 L619.01,387.38 L619.45,384.7 L621.17,382.87 L622.7,380.95 L624.19,379.45 L624.79,377.1 L625.91,375.35 L627.04,373.54 L627.94,371.55 L629.71,369.91 L631.33,368.7 L632.56,366.88 L633.79,365.02 L635.05,363.37 L636.29,361.46 L637.43,359.9 L638.64,358.02 L639.45,355.78 L640.54,353.53 L641.86,351.89 L643.23,350.01 L644.5,347.84 L645.02,345.71 L645.9,343.74 L647.25,341.99 L648.38,340.12 L649.5,337.86 L650.34,335.97 L650.88,333.92 L651.49,331.87 L652.61,329.98 L653.04,327.9 L653.48,325.88 L654.44,323.61 L655.35,321.25 L655.61,318.9 L656.76,317.11 L658.16,315.56 L659.57,314.09 L661.04,312.08 L662.93,310.37 L663.67,308.33 L664.92,306.64 L666.48,305.24 L668.05,303.85 L669.13,302.06 L670.75,300.74 L671.86,299.04 L672.66,297.04 L673.86,295.11 L674.62,292.89 L675.46,290.79 L676.5,288.99 L677.86,287.21 L678.31,284.48 L679.62,282.71 L681.21,280.75 L682.09,278.5 L683.91,277 L685.47,275.34 L686.61,273.6 L688.44,272.39 L689.45,270.43 L690.32,268.53 L691.74,266.51 L693.34,264.72 L694.59,263.11 L696.2,261.78 L697.68,259.78 L699.17,257.85 L700.23,256.23 L701.12,254.48 L702.03,252.64 L703.36,250.92 L704.37,249.03 L704.93,247 L706.74,245.53 L707.52,243.56 L708.27,241.61 L709.51,240.03 L710.73,237.83 L712.16,236.27 L713.9,235.14 L715.13,233.48 L716.77,232.1 L718.13,229.86 L717.97,227.56 L718.69,225.56 L719.81,223.91 L720.02,221.75 L721.49,220.28 L723.01,218.89 L724.48,217.4 L725.93,215.88 L727.51,214.47 L728.6,212.56 L730.39,211.2 L731.71,209.64 L733.02,208.03 L734.68,206.81 L736.11,205.37 L737.64,203.94 L739.37,202.81 L740.22,200.73 L741.46,198.96 L743.4,197.74 L744.78,196.21 L745.55,194.19 L745.89,192.07 L746.37,190.05 L747.45,187.91 L748.59,185.63 L750.67,184.36 L752.67,183.09 L754.37,181.68 L756.64,180.51 L758.22,179.07 L759.87,177.68 L761.48,176.34 L762.52,174.55 L763.79,172.95 L765.4,171.5 L766.76,169.92 L767.91,168.35 L769.31,166.48 L770.58,164.44 L772.15,162.74 L774.27,161.54 L776.05,160.22 L777.91,158.83 L780.01,157.87 L781.65,156.57 L783.76,155.86 L785.69,154.72 L787.61,153.6 L789.25,152.15 L790.78,150.87 L792.38,149.47 L794.02,148.35 L795.39,146.85 L796.47,144.92 L797.67,142.89 L799.11,140.9 L800.05,138.68 L801.73,136.86 L803.5,135.53 L805.17,133.67 L807.12,132.19 L809.4,131.35 L811.14,130.32 L812.97,129.3 L814.91,128.39 L817.03,127.76 L819.06,126.92 L820.78,125.62 L822.4,124.34 L823.96,122.39 L825.46,121.05 L826.89,119.56 L828.12,117.85 L829.68,116.43 L830.74,114.54 L832.46,113.31 L834.29,112.3 L836.13,110.71 L837.84,109.49 L839.74,108.68 L841.22,107.11 L842.99,106.12 L844.97,105.61 L846.86,104.9 L848.69,104.04 L850.46,103 L852.41,102.29 L854.39,100.79 L856.8,99.96 L858.59,99 L860.29,97.88 L861.63,96.19 L863.45,95.23 L864.92,93.73 L866.54,92.47 L868.29,91.42 L870.25,90.71 L871.63,89.15 L873.47,88.17 L875.12,86.95 L876.69,85.6 L878.59,84.71 L880.63,84.04 L881.99,82.52 L883.88,80.93 L885.82,80.14 L887.61,79.06 L889.16,77.64 L891.06,76.8 L892.95,76.04 L894.57,74.82 L896.7,73.58 L898.9,72.6 L901.18,71.63 L903.15,71.08 L905.19,70.91 L907.1,70.31 L909.01,69.57 L910.95,68.98 L912.89,68.3 L914.87,67.75 L917.05,66.6 L918.82,65.22 L920.68,64.16 L922.75,63.26 L925.09,62.5 L927.01,61.47 L929.41,61.05 L932.11,60.71 L934.15,60.28 L936.53,60.04 L938.57,59.55 L940.77,59.29 L943.03,58.84 L945.39,58.67 L947.79,58.64 L950.17,58.47 L952.51,58.34 L954.75,57.83 L956.92,57.8 L958.95,57.72 L961.23,57.53 L963.53,57.4 L965,57.2" fill="none" stroke="#DD8452" stroke-width="3.0" stroke-linejoin="round" stroke-linecap="round"/>
<path d="M595.9,426.7 L595.95,424.44 L596.05,422.3 L596.2,419.83 L596.15,417.67 L596.09,415.4 L596.27,413.07 L596.36,410.72 L596.43,408.39 L596.35,406.14 L596.45,404.04 L596.62,401.6 L596.81,399.11 L596.87,397.1 L596.89,395.07 L596.91,393.03 L597.01,390.99 L597.12,388.95 L597.25,386.93 L597.56,384.94 L597.72,382.47 L597.94,380 L598.27,377.9 L598.69,375.81 L598.8,373.67 L599.1,371.57 L599.08,369.43 L599.13,367.34 L599.55,365.33 L600.05,362.9 L600.58,360.57 L601.27,358.39 L601.45,356.04 L601.91,353.82 L602.57,351.72 L603.15,349.7 L603.38,347.65 L604.07,345.39 L604.95,343.38 L605.64,340.88 L606.98,338.92 L608.64,337.08 L610.03,335.35 L611.28,333.73 L613.42,333.08 L615.11,331.81 L616.36,330.13 L617.3,328.04 L618.15,326.26 L618.42,324.15 L618.99,322.06 L619.42,319.98 L619.83,317.97 L620.12,315.91 L620.82,313.99 L621.63,312.12 L622.59,310.32 L623.6,308.12 L624.97,306.03 L625.75,303.64 L626.44,301.53 L627.36,299.25 L627.76,297.11 L628.78,295.1 L629.41,292.99 L630.36,291.14 L631.12,288.97 L632.72,287.33 L634.08,285.89 L635.82,284.14 L637.06,282.42 L638.22,280.7 L639.87,279.21 L640.83,277.16 L642.42,275.76 L643.78,274.25 L645.31,272.51 L647.44,271.2 L648.26,269.03 L649.67,267.37 L651.08,265.34 L652.41,263.65 L653.21,261.52 L654,259.33 L655.64,257.65 L656.97,255.6 L658.05,253.39 L658.76,251.45 L660.06,249.82 L661.09,248.01 L662.19,246.25 L663.14,244.43 L664.89,242.59 L665.7,240.69 L667.21,239.16 L668.73,237.66 L670,236.03 L671.37,234.53 L673.05,232.71 L674.81,231.06 L676.02,228.95 L677.43,227.36 L678.62,225.72 L680.82,224.49 L682.24,222.4 L683.53,220.75 L685.18,219.43 L687.25,218.07 L688.82,216.73 L690.35,215.25 L692.03,213.95 L693.66,212.64 L695.33,211.48 L697.33,210.09 L698.6,208.25 L699.99,206.62 L701.75,205.35 L702.86,203.57 L705.04,202.25 L707.3,201.45 L708.73,200.1 L710.68,198.8 L712.92,198.01 L715.02,197.61 L716.93,196.49 L718.71,194.83 L720.78,194.37 L722.37,192.92 L724.02,191.51 L725.63,190.03 L727.45,188.89 L728.6,187.03 L730.32,186 L731.92,184.73 L733.37,183.27 L735.01,181.97 L736.55,180.59 L737.63,178.84 L739.21,176.96 L740.5,175.3 L742.04,173.79 L743.18,171.95 L744.81,170.62 L746.88,169.17 L748.54,167.53 L750.81,166.43 L753.01,165.29 L755.37,164.92 L757.27,164.38 L759.15,163.48 L761.28,162.69 L763.6,161.81 L765.7,161.37 L767.68,160.56 L769.45,159.32 L771.19,158.07 L773.06,156.38 L774.98,155.66 L776.52,154.31 L778.23,153.17 L779.97,152.07 L781.43,150.63 L783.17,149.58 L785.14,148 L786.36,146.27 L787.87,144.78 L789.33,143.26 L790.54,141.62 L791.54,139.9 L792.89,137.83 L795.12,136.67 L796.89,135.65 L798.83,134.95 L800.85,134.48 L802.9,134.05 L804.97,133.57 L806.99,132.96 L808.82,132.09 L810.85,131.56 L812.63,130.46 L814.27,129.12 L816.11,128.28 L818.6,127.78 L820.28,126.56 L822.21,125.59 L823.45,123.6 L825,122.33 L826.56,121.08 L827.92,119.53 L829.28,117.73 L830.54,115.66 L831.89,114.07 L833.45,112.58 L834.69,110.88 L836.23,109.36 L838.09,108.16 L840.19,107.02 L842.23,106.76 L844.16,106 L846.12,105.15 L848.19,104.57 L850.44,104.31 L852.12,102.78 L854.32,101.69 L856.45,101.26 L857.91,99.72 L859.32,98.1 L861.11,97.02 L862.7,95.66 L864.13,94.08 L865.98,93.19 L868.17,92.07 L869.94,90.84 L871.78,89.84 L873.63,88.94 L875.54,88.23 L877.32,87.27 L879.45,87.17 L881.42,86.66 L883.49,86.28 L885.5,85.7 L887.06,84.26 L888.8,83.17 L890.56,82.1 L892.51,81.39 L894.19,80.17 L895.95,79.12 L897.62,77.91 L899.38,76.92 L901.28,76.18 L903.12,75.29 L905.08,74.74 L907.16,74.52 L909,73.75 L911.38,72.98 L913.76,72.26 L916.14,71.53 L918.14,71.09 L920.08,70.47 L922.05,69.91 L923.83,68.66 L925.76,67.94 L927.74,67.39 L929.77,67.04 L931.75,66.49 L933.84,66.28 L935.75,65.54 L937.65,64.78 L939.49,63.9 L941.21,62.71 L943.27,62.42 L945.18,61.73 L946.98,60.63 L949,60.21 L951.13,59.57 L953.36,58.81 L955.7,58.41 L958,58.03 L960.17,57.75 L962.56,57.45 L964.72,57.14 L965,57.2" fill="none" stroke="#55A868" stroke-width="3.0" stroke-linejoin="round" stroke-linecap="round"/>
<path d="M595.9,426.7 L595.99,424.41 L596.1,422.25 L596.1,419.73 L596.2,417.52 L596.25,415.15 L596.25,412.68 L596.37,410.15 L596.41,407.8 L596.43,405.54 L596.43,403.08 L596.41,401.01 L596.4,398.87 L596.45,396.69 L596.42,394.48 L596.34,392.28 L596.3,390.11 L596.36,387.99 L596.32,385.94 L596.3,383.53 L596.22,381.33 L596.14,379.15 L596.44,376.74 L596.59,374.62 L596.63,372.23 L597.04,370 L597.35,367.71 L597.63,365.71 L597.72,363.67 L598.36,361.22 L598.49,359.09 L599.19,357.01 L599.31,354.81 L599.75,352.7 L600.16,350.66 L600.64,348.29 L601.03,346.17 L601.65,343.93 L602.22,342.01 L602.67,339.94 L603.36,337.78 L603.9,335.71 L604.48,333.47 L604.75,331.45 L605.26,329.37 L605.86,327.27 L606.69,325.21 L606.82,323.08 L607.26,321.12 L607.62,318.99 L608.13,316.82 L608.6,314.69 L608.96,312.61 L609.86,310.28 L610.33,308.06 L610.85,305.87 L611.76,303.61 L612.72,301.45 L613.78,299.56 L614.72,297.27 L615.49,295.21 L616.92,293.4 L618.02,291.6 L618.69,289.47 L619.57,287.69 L621.5,286.23 L622.09,283.81 L622.7,281.74 L623.1,279.74 L623.75,277.62 L624.32,275.39 L624.63,273.08 L624.96,270.84 L625.77,268.89 L625.96,266.36 L626.9,264.17 L627.38,261.99 L628.46,260.21 L629.99,258.35 L631.04,256.54 L632.54,255.08 L634.29,254.06 L635.85,252.74 L637.65,251.62 L638.9,249.74 L640.54,248.16 L641.2,246.06 L642.86,244.18 L645.31,243.75 L647.05,242.14 L647.83,240.04 L648.9,238.3 L649.97,236.38 L651.04,234.42 L652.68,232.83 L653.01,230.71 L653.2,228.57 L653.89,226.64 L654.3,224.5 L655.55,222.73 L656.87,220.57 L658.7,218.88 L660.85,217.5 L662.79,216.6 L664.72,215.57 L666.39,214.42 L668.55,213.41 L670.99,212.68 L672.73,211.62 L674.56,210.63 L676.17,209.24 L677.7,207.76 L679.62,206.97 L681.23,205.75 L683.05,204.77 L685.14,204.11 L686.63,202.68 L688.1,201.22 L689.57,199.77 L690.99,198.27 L692.15,196.42 L693.89,195.25 L695.6,194.01 L697,192.4 L698.66,191.15 L700.23,189.83 L702.52,188.82 L704.63,187.49 L706.59,186.82 L708.46,186.04 L710.94,185.75 L712.89,185.24 L714.71,184.2 L716.94,183.86 L718.82,182.37 L721.02,181.1 L722.79,179.95 L724.32,178.48 L725.94,177.07 L727.26,175.38 L728.28,173.44 L729.77,172.04 L731.33,170.59 L732.48,168.69 L733.86,166.97 L735.03,165.12 L736.44,163.57 L737.65,161.42 L738.88,159.61 L740.61,157.95 L742.96,157.5 L745.52,157.8 L747.19,156.31 L749.32,154.88 L750.32,153.06 L751.01,150.92 L753.29,149.97 L754.82,148.24 L756.88,147.01 L758.58,145.83 L760.54,144.88 L762.09,143.2 L763.86,141.93 L765.65,140.8 L767.38,139.62 L769.06,138.32 L770.39,136.65 L772.02,135.35 L773.58,134.07 L775.41,132.45 L777.55,131.38 L779.21,130.15 L781.61,129.56 L783.96,128.83 L785.79,127.88 L787.88,127.28 L790.02,126.03 L791.81,124.17 L793.45,122.89 L795.2,121.7 L796.62,120.07 L798.47,119.13 L800.89,118.39 L802.74,117.25 L804.6,116.29 L806.56,115.64 L808.38,114.78 L809.93,113.4 L811.62,112.26 L813.25,110.97 L815.07,110.04 L817.09,109.55 L818.86,108.57 L820.56,107.47 L822.33,106.45 L824.53,105.22 L826.01,103.3 L827.64,101.46 L828.96,99.98 L829.84,97.93 L831.59,96.52 L833.7,96.17 L835.93,95.73 L838.25,94.91 L840.24,94.29 L842.32,93.71 L844.49,93.47 L846.68,93.33 L848.72,92.68 L850.76,92.36 L853.02,91.04 L854.87,89.9 L856.89,89.45 L858.87,88.95 L860.71,88.14 L863.09,87.44 L865.44,86.73 L867.82,86.14 L869.82,85.59 L871.9,84.97 L874.01,84.35 L876.17,84.05 L878.35,84.15 L880.33,83.78 L882.59,83.2 L884.86,82.4 L887.24,81.84 L889.55,81.39 L891.69,80.52 L893.67,79.36 L895.21,77.64 L896.65,76.21 L898.51,74.94 L900.4,73.65 L902.38,72.74 L904.61,71.82 L906.38,70.72 L908.26,69.67 L910.24,68.8 L912.53,68.83 L914.38,67.77 L916.21,66.79 L918.22,66.35 L920.16,65.64 L922.2,65.39 L924.14,64.71 L926.09,64.13 L928.06,63.69 L930.05,63.33 L931.9,62.48 L933.98,62.33 L935.98,61.94 L937.99,61.57 L940.02,61.27 L942.02,60.87 L943.92,60.04 L945.91,59.47 L948,59.32 L950.05,58.9 L952.3,58.76 L954.65,58.63 L956.94,58.18 L959.17,57.88 L961.22,57.65 L963.4,57.39 L965,57.2" fill="none" stroke="#C44E52" stroke-width="3.0" stroke-linejoin="round" stroke-linecap="round"/>
<path d="M595.9,426.7 L597.25,425.2 L598.75,423.47 L600.3,421.68 L602.22,419.82 L604.29,418.79 L606.4,418.65 L607.73,416.94 L609.45,415.79 L610.87,414.49 L612.01,412.6 L612.61,410.25 L613.08,408.13 L613.34,405.72 L613.31,403.6 L613.37,401.39 L613.47,399.25 L613.76,396.99 L613.69,394.65 L614.02,392.65 L614.19,390.37 L614.29,387.97 L614.38,385.47 L614.34,383.33 L614.49,381.15 L614.51,378.99 L614.57,376.93 L614.55,374.55 L614.88,372.33 L616.08,370.57 L617.73,368.81 L619.32,366.86 L619.56,364.53 L619.97,362.34 L620.43,359.91 L620.93,357.85 L621.45,355.72 L621.45,353.52 L621.43,351.34 L621.63,349.24 L621.85,347.2 L622.3,345.17 L622.6,343.11 L622.81,341.05 L623,339.02 L623.26,336.55 L623.42,334.16 L623.64,332.13 L623.78,329.96 L623.95,327.86 L624.12,325.83 L624.34,323.41 L624.9,321.15 L625.27,319.06 L625.82,317.08 L626.57,314.72 L627.03,312.72 L627.21,310.58 L627.43,308.26 L627.73,305.82 L627.91,303.79 L628,301.69 L628.02,299.56 L628.12,297.52 L628.12,295.07 L628.13,292.57 L628.1,290.53 L627.94,288.43 L628,286.27 L627.9,283.97 L628.68,281.73 L629.17,279.71 L630.16,277.79 L631.15,275.82 L632.23,273.89 L633.45,272.07 L634.84,270.47 L635.67,268.15 L636.7,265.95 L638.21,264.05 L639.76,262.1 L641.34,260.46 L643.07,258.57 L644.14,256.79 L644.98,254.71 L645.71,252.47 L646.52,250.12 L647.15,248.13 L647.3,245.9 L647.96,243.71 L648.45,241.53 L649.25,239.32 L649.55,237.32 L649.83,235.23 L650.21,233.1 L650.81,230.98 L651.18,228.83 L651.52,226.71 L651.78,224.64 L652.9,222.41 L653.33,220.26 L653.92,217.99 L654.86,215.93 L655.41,213.51 L656.62,211.53 L657.46,209.32 L658.28,207.37 L659.12,205.03 L659.78,203.02 L660.73,201.06 L661.83,199.17 L662.23,197.03 L662.95,195.16 L663.79,193.07 L664.84,191 L665.79,189.06 L667.06,187.1 L668.63,185.39 L670.05,183.93 L671.47,182.53 L672.62,180.8 L674.14,179.23 L675.8,177.94 L677.86,176.73 L679.81,175.09 L681.74,174.14 L683.38,172.48 L685.24,171.49 L687.16,170.08 L688.78,168.86 L690.73,167.93 L692.03,166.14 L693.63,164.71 L695.7,163.97 L697.52,163.05 L699.14,161.72 L700.77,160.47 L702.4,159.23 L704.29,158.47 L706.18,157.69 L707.79,156.46 L709.66,155.62 L711.62,154.83 L713.12,153.14 L715.28,152.44 L717.11,151.23 L718.74,149.82 L720.01,148.12 L722.11,147.16 L723.37,145.17 L725.18,143.64 L726.48,141.71 L728.42,140.36 L729.84,138.53 L731.42,137.18 L733.42,136.11 L735.14,134.75 L736.92,133.58 L738.22,131.55 L740.03,130.15 L741.15,128.12 L742.72,126.28 L744.3,124.87 L746.02,123.44 L747.55,121.31 L749.89,120.46 L752.25,119.64 L754.19,118.73 L756.13,117.73 L758.14,117.22 L760.04,116.55 L761.91,115.84 L763.86,115.29 L765.86,114.77 L767.8,113.9 L769.69,112.24 L771.46,110.4 L773.16,109.29 L774.84,108.05 L776.46,106.69 L778.56,105.33 L780.61,104.62 L782.03,103.08 L783.4,101.45 L785.09,100.22 L786.51,98.72 L788.11,97.44 L789.98,96.46 L791.19,94.74 L792.53,93.16 L794.01,91.73 L795.51,90.31 L796.99,88.85 L798.65,87.59 L800.13,86.09 L801.42,84.37 L803.34,83.49 L805.23,82.56 L807.12,81.36 L809.24,80.51 L811.19,79.53 L812.88,78.38 L814.92,77.34 L816.28,75.69 L817.75,74.35 L819.97,73.16 L822.13,72.72 L824,71.94 L826.15,71.17 L828.1,70.59 L830.24,69.86 L832.65,69.17 L834.68,68.88 L836.89,68.55 L839.01,68.51 L841.29,68.48 L843.61,67.88 L846.09,67.48 L848.12,67.06 L850.21,66.71 L852.37,66.53 L854.47,65.8 L856.65,65.61 L858.85,65.47 L861,65.14 L863.11,64.62 L865.22,64.43 L867.29,64.34 L869.33,64.28 L871.34,64.02 L873.37,63.95 L875.37,63.66 L877.39,63.56 L879.41,63.5 L881.42,63.41 L883.42,63.16 L885.43,63.06 L887.44,62.91 L889.45,62.89 L891.47,62.77 L893.49,62.77 L895.51,62.66 L897.53,62.56 L899.57,62.5 L901.57,62.21 L903.55,61.87 L905.52,61.45 L907.52,61.27 L909.52,61.01 L911.53,60.88 L913.51,60.44 L915.5,60.18 L917.54,60.21 L919.54,59.91 L921.53,59.49 L923.53,59.21 L925.56,59.09 L927.59,59.04 L929.62,58.91 L931.65,58.78 L933.69,58.59 L935.83,58.43 L938.06,58.31 L940.35,58.17 L942.69,57.95 L945.04,57.85 L947.4,57.79 L949.72,57.72 L951.99,57.61 L954.19,57.55 L956.28,57.38 L958.73,57.23 L960.94,57.19 L963.21,57.17 L965,57.2" fill="none" stroke="#8172B3" stroke-width="3.0" stroke-linejoin="round" stroke-linecap="round"/>
<line x1="595.9" y1="426.7" x2="965" y2="57.2" stroke="#000" stroke-width="1.2" stroke-dasharray="4.4 2.1"/>
<rect x="721.7" y="274.9" width="253.4" height="161.1" rx="3.5" ry="3.5" fill="#EAEAF2" fill-opacity="0.8" stroke="#CCCCCC" stroke-opacity="0.85" stroke-width="1.3"/>
<text x="848.4" y="296.0" font-size="17.7" text-anchor="middle">Class</text>
<line x1="728.9" y1="315.3" x2="764.1" y2="315.3" stroke="#4C72B0" stroke-width="3.0" stroke-linecap="round"/>
<text x="778.4" y="321.9" font-size="17.7">Multiview</text>
<line x1="728.9" y1="341.3" x2="764.1" y2="341.3" stroke="#DD8452" stroke-width="3.0" stroke-linecap="round"/>
<text x="778.4" y="347.9" font-size="17.7">A2c</text>
<line x1="728.9" y1="367.3" x2="764.1" y2="367.3" stroke="#55A868" stroke-width="3.0" stroke-linecap="round"/>
<text x="778.4" y="373.9" font-size="17.7">A4c</text>
<line x1="728.9" y1="393.3" x2="764.1" y2="393.3" stroke="#C44E52" stroke-width="3.0" stroke-linecap="round"/>
<text x="778.4" y="399.9" font-size="17.7">PLAX</text>
<line x1="728.9" y1="419.3" x2="764.1" y2="419.3" stroke="#8172B3" stroke-width="3.0" stroke-linecap="round"/>
<text x="778.4" y="425.9" font-size="17.7">Averaged single-view</text>
<text x="595.9" y="469.2" font-size="15.3" text-anchor="middle">0.0</text>
<text x="565.3" y="432.9" font-size="15.3" text-anchor="end">0.0</text>
<text x="669.72" y="469.2" font-size="15.3" text-anchor="middle">0.2</text>
<text x="565.3" y="359" font-size="15.3" text-anchor="end">0.2</text>
<text x="743.54" y="469.2" font-size="15.3" text-anchor="middle">0.4</text>
<text x="565.3" y="285.1" font-size="15.3" text-anchor="end">0.4</text>
<text x="817.36" y="469.2" font-size="15.3" text-anchor="middle">0.6</text>
<text x="565.3" y="211.2" font-size="15.3" text-anchor="end">0.6</text>
<text x="891.18" y="469.2" font-size="15.3" text-anchor="middle">0.8</text>
<text x="565.3" y="137.3" font-size="15.3" text-anchor="end">0.8</text>
<text x="965" y="469.2" font-size="15.3" text-anchor="middle">1.0</text>
<text x="565.3" y="63.4" font-size="15.3" text-anchor="end">1.0</text>
<text x="780.3" y="494.8" font-size="22.8" text-anchor="middle">1 - Specificity</text>
<text transform="translate(531.1,241.75) rotate(-90)" x="0" y="0" font-size="22.8" text-anchor="middle">Sensitivity</text>
<text x="650.07" y="28.8" font-size="22.5" style="fill:#000">(</text>
<text x="659.89" y="27.6" font-size="21.0" style="fill:#000">b</text>
<text x="673.1" y="28.8" font-size="22.5" style="fill:#000">)</text>
<text x="690.04" y="27.6" font-size="21.0" style="fill:#000">Diastolic</text>
<text x="786.14" y="27.6" font-size="21.0" style="fill:#000">Dysfunction</text>
</g>
<g>
<rect x="1080.8" y="39.5" width="404.3" height="404.5" fill="#EAEAF2"/>
<line x1="1098.5" y1="39.5" x2="1098.5" y2="444" stroke="#fff" stroke-width="1.4"/>
<line x1="1080.8" y1="426.7" x2="1485.1" y2="426.7" stroke="#fff" stroke-width="1.4"/>
<line x1="1172.32" y1="39.5" x2="1172.32" y2="444" stroke="#fff" stroke-width="1.4"/>
<line x1="1080.8" y1="352.8" x2="1485.1" y2="352.8" stroke="#fff" stroke-width="1.4"/>
<line x1="1246.14" y1="39.5" x2="1246.14" y2="444" stroke="#fff" stroke-width="1.4"/>
<line x1="1080.8" y1="278.9" x2="1485.1" y2="278.9" stroke="#fff" stroke-width="1.4"/>
<line x1="1319.96" y1="39.5" x2="1319.96" y2="444" stroke="#fff" stroke-width="1.4"/>
<line x1="1080.8" y1="205" x2="1485.1" y2="205" stroke="#fff" stroke-width="1.4"/>
<line x1="1393.78" y1="39.5" x2="1393.78" y2="444" stroke="#fff" stroke-width="1.4"/>
<line x1="1080.8" y1="131.1" x2="1485.1" y2="131.1" stroke="#fff" stroke-width="1.4"/>
<line x1="1467.6" y1="39.5" x2="1467.6" y2="444" stroke="#fff" stroke-width="1.4"/>
<line x1="1080.8" y1="57.2" x2="1485.1" y2="57.2" stroke="#fff" stroke-width="1.4"/>
<path d="M1098.5,426.7 L1098.51,424.56 L1098.55,422.2 L1098.6,419.92 L1098.73,417.41 L1098.76,415.28 L1098.74,413.05 L1098.7,410.75 L1098.64,408.42 L1098.74,406.08 L1098.88,403.74 L1098.87,401.45 L1098.95,399.21 L1098.99,397.07 L1099.09,395.03 L1099.09,393.02 L1099.09,391.01 L1099.05,388.99 L1099.09,386.97 L1099.2,384.94 L1099.24,382.92 L1099.26,380.88 L1099.33,378.85 L1099.46,376.82 L1099.49,374.79 L1099.54,372.75 L1099.6,370.72 L1099.59,368.69 L1099.68,366.66 L1099.75,364.63 L1099.73,362.6 L1099.71,360.57 L1099.96,358.56 L1100.03,356.53 L1100.05,354.51 L1100.2,352.49 L1100.22,350.47 L1100.25,348.44 L1100.45,346.42 L1100.37,344.39 L1100.56,342.37 L1100.54,340.33 L1100.64,338.3 L1100.67,336.27 L1100.81,334.23 L1100.85,332.2 L1100.88,330.17 L1101.13,328.13 L1101.21,326.07 L1101.45,324 L1101.7,321.93 L1101.87,319.86 L1101.95,317.78 L1102.17,315.72 L1102.4,313.68 L1102.54,311.65 L1102.67,309.64 L1102.72,307.15 L1102.82,304.71 L1103.29,302.37 L1103.42,300.33 L1103.7,298.16 L1103.98,296.03 L1104.21,293.93 L1104.47,291.87 L1104.58,289.83 L1104.54,287.79 L1104.92,285.33 L1105.43,282.92 L1105.77,280.5 L1106.22,278.1 L1106.57,275.69 L1107.05,273.67 L1107.21,271.58 L1107.49,269.52 L1107.95,267.51 L1108.41,265.51 L1108.31,263.44 L1108.7,261.46 L1109.3,259.53 L1109.57,257.05 L1109.9,254.6 L1110.08,252.14 L1110.26,250.12 L1110.85,248.1 L1111.29,246.07 L1111.57,244.01 L1111.79,241.95 L1112.26,239.96 L1113.14,238.07 L1113.68,236.14 L1114.34,233.76 L1114.91,231.4 L1115.31,229.07 L1115.94,226.95 L1116.44,224.82 L1116.8,222.7 L1117.52,220.7 L1118.13,218.71 L1118.41,216.69 L1118.88,214.26 L1119.57,211.98 L1120.31,209.68 L1120.79,207.49 L1121.11,205.37 L1121.99,203.54 L1122.96,201.29 L1123.71,198.97 L1125.1,196.8 L1125.35,194.28 L1126.22,192.04 L1126.56,189.65 L1127.53,187.39 L1127.81,185.34 L1128.1,183.18 L1129.32,181.3 L1129.97,178.93 L1130.4,176.82 L1130.77,174.59 L1131.24,172.36 L1132.03,170.25 L1132.66,168.16 L1133.73,166.35 L1134.85,164.32 L1135.88,162.15 L1136.96,160.46 L1138.27,158.52 L1139.53,156.73 L1141.35,155.57 L1142.16,153.62 L1143.62,152.04 L1144.21,150.02 L1145.8,148.12 L1147.42,146.55 L1148.63,144.99 L1149.63,143.33 L1150.56,141.51 L1151.13,139.07 L1152.14,137.16 L1152.71,134.96 L1153.58,132.89 L1154.3,130.82 L1155.93,128.75 L1156.3,126.5 L1157.43,124.71 L1158.35,122.85 L1159.91,120.82 L1161.35,118.75 L1163,117.4 L1164.56,115.99 L1165.65,114.06 L1167.43,112.89 L1169.24,111.84 L1170.81,110.55 L1172.76,109.7 L1174.37,108.28 L1176.16,107.16 L1177.9,105.99 L1179.46,104.58 L1181.2,103.52 L1183.15,102.68 L1185.18,102.11 L1187.18,101.57 L1189.06,100.79 L1190.81,99.78 L1192.8,99.09 L1194.35,97.56 L1196.01,96.26 L1197.81,95.23 L1199.96,94.87 L1201.8,94.02 L1203.79,93.47 L1205.65,92.55 L1207.48,91.65 L1209.51,90.29 L1210.93,88.3 L1211.52,86.39 L1213.21,84.98 L1214.12,82.95 L1215.8,81.32 L1217.92,80.25 L1220.31,79.58 L1222.27,78.87 L1224.35,78.33 L1226.54,77.94 L1228.76,77.42 L1230.88,76.37 L1233.2,75.59 L1235.19,75.15 L1237.25,74.88 L1239.29,74.48 L1241.26,73.8 L1243.19,73.1 L1245.07,72.32 L1247.06,71.94 L1248.92,71.13 L1250.78,70.28 L1252.75,69.79 L1254.67,69.17 L1256.68,68.86 L1259.14,68.45 L1261.54,67.77 L1263.53,67.39 L1265.52,67.11 L1267.49,66.67 L1269.49,66.54 L1271.98,66.34 L1274.45,66.02 L1276.91,65.61 L1278.89,65.33 L1281.34,65 L1283.77,64.7 L1286.25,64.55 L1288.24,64.21 L1290.32,64.12 L1292.38,63.8 L1294.87,63.77 L1296.97,63.6 L1299.13,63.5 L1301.3,63.55 L1303.43,63.48 L1305.49,63.36 L1307.88,63.22 L1310,63.12 L1312.15,62.89 L1314.4,62.4 L1316.68,62.24 L1318.98,62.17 L1321,62.1 L1323.34,62.04 L1325.51,61.84 L1327.87,61.71 L1329.86,61.43 L1331.94,61.41 L1334.08,61.15 L1336.27,61.16 L1338.49,61.06 L1340.73,60.92 L1342.97,60.94 L1345.18,60.87 L1347.37,60.72 L1349.5,60.58 L1351.57,60.54 L1353.58,60.55 L1355.59,60.42 L1357.61,60.33 L1359.61,60.08 L1361.61,59.85 L1363.62,59.64 L1365.63,59.44 L1367.63,59.18 L1369.65,59.12 L1371.66,59.06 L1373.68,58.97 L1375.69,59 L1377.7,58.92 L1379.71,58.88 L1381.7,58.74 L1383.7,58.65 L1386.18,58.48 L1388.57,58.31 L1390.88,58.17 L1393.15,58.02 L1395.41,58.02 L1397.68,57.99 L1400,57.82 L1402.4,57.79 L1404.9,57.72 L1407,57.61 L1409.2,57.66 L1411.53,57.65 L1413.98,57.63 L1416.34,57.59 L1418.5,57.52 L1420.86,57.42 L1422.86,57.42 L1424.95,57.35 L1427.12,57.34 L1429.36,57.34 L1431.65,57.35 L1433.98,57.31 L1436.34,57.36 L1438.71,57.19 L1441.08,57.13 L1443.45,57.14 L1445.8,57.21 L1448.1,57.09 L1450.37,57.16 L1452.57,57.21 L1454.7,57.13 L1456.74,57.14 L1459.15,57.08 L1461.39,57.12 L1463.43,57.15 L1465.57,57.2 L1467.6,57.2" fill="none" stroke="#4C72B0" stroke-width="3.0" stroke-linejoin="round" stroke-linecap="round"/>
<path d="M1098.5,426.7 L1098.57,424.56 L1098.64,422.2 L1098.7,419.92 L1098.81,417.41 L1098.93,415.28 L1099.03,413.05 L1099.04,410.75 L1099.24,408.43 L1099.28,406.08 L1099.41,403.75 L1099.46,401.45 L1099.65,399.22 L1099.71,397.07 L1099.81,395.04 L1099.77,393.02 L1099.92,391.01 L1100,388.99 L1100.16,386.97 L1100.19,384.94 L1100.15,382.91 L1100.23,380.88 L1100.4,378.85 L1100.45,376.81 L1100.65,374.78 L1100.7,372.74 L1100.79,370.7 L1100.94,368.67 L1101.27,366.65 L1101.45,364.62 L1101.72,362.64 L1101.9,360.65 L1101.97,358.64 L1102.36,356.67 L1102.68,354.69 L1102.89,352.7 L1103.04,350.7 L1103.33,348.72 L1103.7,346.74 L1103.87,344.74 L1104.01,342.73 L1104.15,340.72 L1104.4,338.72 L1104.56,336.71 L1105.04,334.73 L1105.5,332.76 L1105.64,330.75 L1105.62,328.69 L1105.86,326.66 L1106.05,324.6 L1106.29,322.54 L1106.9,320.54 L1107.35,318.52 L1107.79,316.5 L1108.17,314.49 L1108.57,312.49 L1109.01,310.52 L1109.47,308.08 L1110.09,305.71 L1110.47,303.36 L1110.97,300.99 L1111.25,298.8 L1111.35,296.59 L1111.65,294.44 L1111.93,292.32 L1112.3,290.24 L1112.7,288.2 L1112.9,286.17 L1113.58,283.77 L1113.88,281.37 L1113.78,278.98 L1114.66,276.87 L1115.18,274.59 L1115.33,272.24 L1115.5,270.04 L1116,268.04 L1116.45,265.63 L1116.9,263.32 L1117.86,261.17 L1118.25,258.89 L1118.89,256.52 L1119.78,254.71 L1120.49,252.37 L1121.22,250.04 L1122.31,247.82 L1123.43,246.1 L1123.9,244.01 L1124.9,242.03 L1125.62,239.77 L1126.93,237.61 L1127.36,235.57 L1128.23,233.66 L1128.84,231.63 L1129.27,229.53 L1129.98,227.58 L1130.65,225.65 L1131.31,223.26 L1132.24,221.42 L1133.28,219.49 L1134.22,217.58 L1135.18,215.73 L1136.56,214.15 L1137.61,211.88 L1138.85,209.77 L1139.72,207.5 L1140.82,205.66 L1141.84,203.62 L1142.89,201.59 L1144.59,200.05 L1145.62,198.2 L1146.82,196.13 L1148.16,194.59 L1149.18,192.62 L1149.35,190.23 L1150.29,188.32 L1151.66,186.6 L1152.76,184.32 L1154.12,182.57 L1155.58,180.78 L1157.02,178.98 L1158.57,177.31 L1159.55,175.44 L1160.7,173.8 L1161.73,171.95 L1162.99,170.36 L1164.43,168.36 L1165.68,166.23 L1166.88,164.01 L1168.48,162.68 L1169.14,160.51 L1171.08,158.91 L1172.4,157.3 L1173.62,155.53 L1175.03,153.93 L1176.24,152.16 L1177.97,150.99 L1179.67,149.2 L1181.33,147.43 L1182.67,145.66 L1184.31,144.37 L1186.29,142.87 L1187.9,141.1 L1189.56,139.37 L1191.3,137.59 L1192.58,136.02 L1193.69,134.27 L1195.08,132.74 L1196.6,131.31 L1198.05,129.75 L1200.04,128.79 L1202.16,127.49 L1204.24,126.07 L1206.06,125.14 L1207.99,124.39 L1209.99,123.68 L1211.93,122.7 L1213.57,121.39 L1215.62,120.08 L1218.05,119.36 L1220.1,118.92 L1221.8,117.67 L1223.77,116.94 L1225.59,115.89 L1227.47,114.97 L1229.42,114.27 L1231.43,113.58 L1233.27,112.46 L1235.02,111.11 L1236.73,109.71 L1238.43,108.38 L1240.3,107.46 L1242.48,106.42 L1244.5,105.62 L1246.88,104.81 L1249.18,104.03 L1251.31,103.52 L1253.81,103.1 L1255.99,102 L1257.84,101.18 L1259.63,99.96 L1261.62,99.12 L1263.34,97.89 L1265.12,96.23 L1267.21,95.09 L1268.7,93.65 L1269.5,91.74 L1270.6,89.93 L1272.23,88.37 L1274.49,87.21 L1277,86.56 L1279.24,86.65 L1281.4,86.17 L1283.52,85.57 L1285.6,85.13 L1287.66,84.8 L1289.7,84.29 L1291.68,83.56 L1293.67,82.94 L1295.66,82.35 L1297.64,81.86 L1299.74,81.52 L1301.89,80.88 L1304.06,80.34 L1306.12,79.77 L1308.4,79.11 L1310.61,78.59 L1311.89,76.84 L1314.02,76.5 L1316.11,76.3 L1318.11,75.7 L1320.43,75.45 L1322.43,75.14 L1324.54,74.79 L1326.74,74.34 L1329.02,73.91 L1331.39,73.73 L1333.77,73.31 L1336.18,72.96 L1338.4,72.58 L1340.85,72.34 L1342.88,71.91 L1345.03,71.76 L1347.17,71.13 L1349.4,70.96 L1351.61,70.53 L1353.87,70.49 L1356.04,70.1 L1358.13,69.57 L1360.17,69.17 L1362.57,68.66 L1364.81,68.39 L1366.83,68.22 L1369.55,67.51 L1371.66,67.71 L1373.96,67.25 L1375.91,66.24 L1378.18,65.81 L1380.19,65.28 L1382.26,65.06 L1384.43,64.73 L1386.75,64.48 L1389.18,63.92 L1391.25,63.64 L1393.43,63.38 L1395.74,63.24 L1398.16,63 L1400.48,62.79 L1402.62,62.5 L1404.84,62.02 L1407.21,61.99 L1409.62,61.65 L1411.61,61.39 L1413.65,61.25 L1415.69,60.89 L1417.79,60.72 L1419.9,60.49 L1422.02,60.18 L1424.15,59.92 L1426.3,59.84 L1428.44,59.62 L1430.56,59.34 L1432.63,59.12 L1434.62,58.98 L1436.73,58.78 L1438.92,58.66 L1441.18,58.54 L1443.49,58.49 L1445.81,58.3 L1448.14,58.13 L1450.45,58.01 L1452.73,57.92 L1454.95,57.9 L1457.08,57.72 L1459.13,57.74 L1461.5,57.53 L1463.64,57.41 L1465.85,57.29 L1467.6,57.2" fill="none" stroke="#DD8452" stroke-width="3.0" stroke-linejoin="round" stroke-linecap="round"/>
<path d="M1098.5,426.7 L1098.53,424.56 L1098.62,422.2 L1098.71,419.92 L1098.79,417.41 L1098.92,415.27 L1099.02,413.04 L1099.13,410.75 L1099.52,408.43 L1099.69,406.09 L1099.8,403.76 L1099.98,401.46 L1100.11,399.23 L1100.15,397.08 L1100.12,395.05 L1100.15,392.57 L1100.52,390.11 L1100.58,387.61 L1100.6,385.11 L1100.67,383.11 L1100.82,381.11 L1101.05,379.12 L1101.22,377.11 L1101.58,375.13 L1101.72,373.12 L1101.93,371.12 L1102.32,369.14 L1102.58,367.15 L1102.89,365.17 L1103.05,363.17 L1103.2,361.16 L1103.37,359.16 L1103.65,357.17 L1103.74,355.16 L1103.99,353.17 L1104.06,351.15 L1104.6,349.19 L1104.86,347.19 L1105.09,345.19 L1105.7,343.24 L1105.68,341.18 L1106.23,339.22 L1106.78,337.26 L1107,335.23 L1107.34,333.21 L1107.8,331.25 L1108.04,329.19 L1108.65,327.17 L1108.97,325.05 L1109.49,322.96 L1109.96,320.85 L1110.08,318.65 L1110.95,316.65 L1111.59,314.63 L1112.23,312.64 L1112.89,310.7 L1113.52,308.31 L1114.29,306.08 L1114.62,303.86 L1115.29,301.9 L1116.02,299.65 L1116.41,297.34 L1117.02,295.41 L1118.18,293.46 L1119.18,291.59 L1119.87,289.51 L1120.32,287.1 L1120.91,284.96 L1121.58,282.69 L1122.38,280.45 L1122.76,278.48 L1123.39,276.48 L1123.88,274.39 L1124.11,272.22 L1124.26,270.02 L1124.62,267.87 L1124.86,265.72 L1125.14,263.63 L1125.59,261.64 L1126.12,259.29 L1126.8,256.97 L1127.39,254.69 L1127.66,252.47 L1128.13,250.39 L1127.84,248.22 L1128.41,245.82 L1129.21,243.55 L1130.53,241.46 L1131.2,239.19 L1131.85,237.21 L1132.47,235.15 L1132.85,233.01 L1133.25,230.89 L1134.3,229.08 L1135.04,226.69 L1136.47,224.76 L1137.03,222.62 L1138.19,220.5 L1139.37,218.68 L1140.31,216.3 L1142.11,214.72 L1144.31,213.5 L1146.04,212.14 L1147.86,210.88 L1149.13,208.91 L1150.09,206.8 L1151.39,204.79 L1152.55,202.72 L1153.01,200.67 L1153.83,198.66 L1155.06,196.75 L1155.41,194.46 L1156.5,192.5 L1157.34,190.51 L1157.74,188.42 L1158.8,186.32 L1159.96,184.4 L1161.47,182.7 L1162.5,180.86 L1164.48,179.25 L1165.32,176.83 L1167.35,175.43 L1168.92,173.51 L1170.85,172.59 L1172.13,170.9 L1173.77,169.57 L1175.06,167.73 L1176.97,166.81 L1178.64,165.67 L1180.72,164.42 L1182.29,163.08 L1184.17,162 L1186.04,161.14 L1187.77,159.38 L1189.62,157.72 L1190.47,155.57 L1191.65,153.5 L1193.6,151.95 L1195.05,150.51 L1196.31,148.84 L1197.3,146.85 L1199.11,145.48 L1200.76,144.21 L1202.58,142.68 L1204.74,141.44 L1206.46,139.63 L1207.85,138.12 L1209.21,136.52 L1210.97,135.37 L1212.71,134.17 L1215.15,133.32 L1217.08,131.79 L1218.79,130.74 L1219.81,128.69 L1221.38,127.37 L1223.53,126.87 L1225.06,125.5 L1227.17,125.03 L1229.47,124.03 L1230.93,122.5 L1232.66,121.37 L1234.53,120.5 L1236.21,119.27 L1238.08,118.4 L1239.94,117.52 L1241.69,116.47 L1243.52,114.68 L1245.42,113.04 L1247.04,111.85 L1249.22,110.55 L1250.91,108.76 L1252.67,107.07 L1254.55,105.48 L1255.98,104.05 L1257.54,102.58 L1259.79,101.72 L1261.66,101 L1263.5,100.05 L1265.32,98.91 L1267.34,98.2 L1269.36,97.51 L1271.37,96.88 L1273.42,96.56 L1275.48,95.05 L1277.43,94.39 L1279.51,93.66 L1281.64,93.44 L1283.65,93.03 L1286.06,92.36 L1288.37,91.57 L1290.84,91.24 L1293.23,90.34 L1295.68,89.48 L1296.75,87.33 L1297.95,85.42 L1299.97,84.11 L1301.93,83.13 L1303.61,82.11 L1305.61,81.03 L1307.65,80.61 L1309.86,79.95 L1312.33,79.72 L1314.35,79.28 L1316.5,79.18 L1318.66,78.87 L1320.85,78.54 L1323.01,77.9 L1325.15,77.2 L1327.35,77.17 L1329.42,76.52 L1331.48,76.34 L1333.93,76.02 L1336.27,76.03 L1338.55,75.6 L1340.83,75.42 L1342.96,74.78 L1344.9,73.62 L1347,73.34 L1349,72.87 L1351.39,72.18 L1353.62,71.2 L1355.86,70.63 L1358.07,70.33 L1360.13,69.77 L1362.64,69.38 L1365.03,69.22 L1367.27,68.99 L1369.38,68.97 L1371.81,68.81 L1374.04,68.64 L1376.13,68.76 L1378.59,68.54 L1380.64,67.97 L1382.9,67.29 L1385,66.88 L1387.25,66.71 L1389.24,66.64 L1391.36,66.59 L1393.55,66.41 L1395.76,66.23 L1397.93,66.1 L1400.01,65.74 L1402.25,65.08 L1404.45,65.15 L1406.43,64.25 L1408.77,64.02 L1410.85,63.81 L1413.21,63.43 L1415.22,63 L1417.52,62.63 L1419.69,62.15 L1422.1,62.01 L1424.14,61.79 L1426.28,61.84 L1428.44,61.46 L1430.65,61.22 L1432.88,61.02 L1435.12,60.94 L1437.31,60.56 L1439.48,60.5 L1441.58,60.42 L1443.58,60.13 L1445.89,59.57 L1448.04,59.43 L1450.64,59.02 L1453.16,58.61 L1455.6,58.35 L1457.89,57.93 L1460.05,57.77 L1462.5,57.48 L1464.67,57.43 L1466.76,57.2 L1467.6,57.2" fill="none" stroke="#55A868" stroke-width="3.0" stroke-linejoin="round" stroke-linecap="round"/>
<path d="M1098.5,426.7 L1098.59,424.56 L1098.67,422.2 L1098.74,419.92 L1098.8,417.41 L1098.77,415.27 L1098.88,413.04 L1099.18,410.76 L1099.21,408.43 L1099.28,406.08 L1099.39,403.75 L1099.49,401.45 L1099.58,399.22 L1099.55,397.06 L1099.64,395.03 L1099.73,393.02 L1099.78,391 L1099.95,388.99 L1100.21,386.97 L1100.42,384.95 L1100.41,382.91 L1100.49,380.88 L1100.4,378.83 L1100.67,376.81 L1100.81,374.77 L1100.85,372.73 L1101.06,370.7 L1101.3,368.67 L1101.39,366.63 L1101.4,364.58 L1101.78,362.61 L1102.15,360.63 L1102.45,358.65 L1102.52,356.65 L1102.79,354.67 L1103.04,352.68 L1103.29,350.69 L1103.48,348.7 L1103.68,346.7 L1104,344.72 L1104,342.69 L1104.08,340.67 L1104.53,338.7 L1105.02,336.73 L1105.63,334.77 L1105.86,332.77 L1106.03,330.75 L1106.85,328.82 L1106.91,326.75 L1107.36,324.72 L1107.99,322.73 L1108.3,320.67 L1108.91,318.67 L1109.18,316.61 L1109.24,314.52 L1109.49,312.47 L1109.76,310.45 L1110.29,308.52 L1110.92,306.12 L1111.67,303.82 L1112.01,301.49 L1112.22,299.25 L1112.72,297.1 L1113.01,294.92 L1113.38,292.79 L1113.89,290.72 L1114.24,288.64 L1114.62,286.61 L1115.26,284.69 L1115.42,282.2 L1116.25,279.94 L1116.96,277.74 L1118.06,275.74 L1118.47,273.5 L1118.53,271.08 L1119.19,268.95 L1120.32,267.07 L1120.56,265.03 L1121,262.62 L1121.97,260.49 L1122.74,258.36 L1123.79,256.54 L1124.17,254.42 L1124.93,252.15 L1125.48,249.86 L1126.72,247.67 L1127.52,245.52 L1128.47,243.3 L1128.97,240.91 L1129.76,239.02 L1130.57,237.06 L1131.17,234.99 L1131.78,232.92 L1132.23,230.82 L1132.58,228.73 L1132.7,226.65 L1133.78,224.85 L1134.77,222.91 L1135.77,220.98 L1136.61,219.04 L1137.46,217.16 L1137.93,215.2 L1138.63,212.89 L1139.69,210.87 L1141,209.26 L1142.06,207.08 L1143.47,205.21 L1145.26,203.91 L1147.03,202.3 L1148.88,200.1 L1150.66,198.69 L1151.57,196.54 L1152.55,194.34 L1153.22,192.27 L1154.24,190.26 L1155.17,188.14 L1156.35,186.2 L1157.35,184.25 L1158.98,182.27 L1160.22,180.54 L1162.1,179.37 L1163.31,177.17 L1165.07,175.41 L1166.5,173.34 L1168.29,172.14 L1169.88,170.79 L1171.4,168.85 L1172.56,167.12 L1173.9,165.49 L1175.57,164.16 L1177.15,162.78 L1178.7,161.45 L1180.07,159.38 L1181.55,157.71 L1183.49,156.3 L1185.17,154.97 L1186.49,153.42 L1188.63,152.27 L1190.15,150.3 L1191.96,148.61 L1193.6,146.91 L1195.44,145.51 L1197.22,143.8 L1199.35,142.87 L1200.75,141.34 L1202.08,139.42 L1204.08,137.86 L1205.63,136.43 L1206.8,134.59 L1207.98,132.71 L1209.51,131.17 L1211.22,129.88 L1213.46,128.6 L1215.05,127.21 L1216.88,126.24 L1218.76,125.4 L1220.79,124.9 L1222.79,124.38 L1224.62,123.48 L1226.47,122.59 L1228.35,121.77 L1230.31,121.18 L1232.08,120.22 L1233.9,119.36 L1235.62,118.28 L1237.33,117.16 L1239.11,116.2 L1240.94,115.32 L1242.71,114.34 L1244.54,113.47 L1246.07,112.02 L1248.22,111.82 L1249.99,110.85 L1251.96,110.3 L1253.85,109.56 L1255.65,108.65 L1257.56,107.96 L1259.29,106.88 L1260.9,105.57 L1262.73,104.68 L1264.53,103.69 L1266.42,102.86 L1268.31,102.03 L1270.09,101 L1271.86,99.96 L1273.56,98.84 L1275.31,97.85 L1277.12,96.89 L1278.96,96 L1281.07,94.58 L1283.41,93.73 L1285.8,93.01 L1287.74,92.42 L1289.62,91.55 L1291.68,90.94 L1294.06,90.08 L1296.35,89.98 L1298.5,89.21 L1300.75,88.64 L1302.94,88.06 L1304.95,87.3 L1307.3,86.64 L1309.3,86.09 L1311.3,85.21 L1313.2,84.3 L1314.69,83.1 L1317.05,82.24 L1319.16,81.25 L1321.14,80.81 L1323.51,80.33 L1325.84,80.36 L1328.12,79.33 L1330.12,78.75 L1332.22,78.25 L1334.38,77.71 L1336.6,77.26 L1338.87,76.83 L1341.13,76.31 L1343.4,75.86 L1345.82,75.49 L1348.32,75.22 L1350.44,75.17 L1352.62,74.96 L1354.83,74.64 L1357.09,74.56 L1359.34,74.36 L1361.57,74.14 L1363.75,73.82 L1365.88,73.77 L1367.87,73.29 L1370.23,72.94 L1372.37,72.68 L1374.63,72.51 L1376.85,71.46 L1378.81,70.24 L1380.67,68.97 L1382.39,67.86 L1384.53,66.83 L1386.57,66.37 L1388.82,65.55 L1390.81,65.13 L1392.84,64.56 L1394.94,64.13 L1397.01,63.51 L1399.16,63.46 L1401.11,62.82 L1402.98,61.99 L1404.92,61.33 L1406.93,60.85 L1408.8,59.97 L1410.87,59.8 L1413.26,59.15 L1415.53,58.39 L1417.84,57.68 L1419.86,57.58 L1422.2,57.41 L1424.51,57.4 L1426.85,57.27 L1429.01,57.23 L1431.05,57.28 L1433.07,57.2 L1435.4,57.25 L1437.46,57.21 L1439.64,57.15 L1441.94,57.18 L1444.31,57.2 L1446.72,57.18 L1449.16,57.03 L1451.58,57.09 L1453.96,57.07 L1456.27,57.17 L1458.49,57.16 L1460.57,57.06 L1462.96,57.17 L1465.04,57.15 L1467.06,57.17 L1467.6,57.2" fill="none" stroke="#C44E52" stroke-width="3.0" stroke-linejoin="round" stroke-linecap="round"/>
<path d="M1098.5,426.7 L1098.57,424.56 L1098.64,422.2 L1098.71,419.92 L1098.76,417.41 L1098.8,415.28 L1098.83,413.05 L1098.8,410.75 L1098.86,408.42 L1098.88,406.07 L1098.93,403.74 L1098.93,401.44 L1098.92,399.21 L1098.97,397.06 L1099.09,395.02 L1099.11,393.01 L1099.21,391 L1099.36,388.99 L1099.44,386.96 L1099.53,384.94 L1099.64,382.91 L1099.72,380.88 L1099.83,378.85 L1099.84,376.81 L1099.95,374.78 L1099.99,372.75 L1100.1,370.71 L1100.08,368.68 L1100.19,366.65 L1100.36,364.62 L1100.58,362.6 L1100.67,360.58 L1100.69,358.55 L1100.65,356.53 L1100.63,354.5 L1100.65,352.48 L1100.85,350.46 L1101.07,348.44 L1101.12,346.42 L1101.2,344.39 L1101.3,342.37 L1101.37,340.34 L1101.43,338.3 L1101.44,336.26 L1101.52,334.22 L1101.52,332.17 L1101.62,330.11 L1101.84,328.01 L1102.12,325.89 L1102.39,323.75 L1102.71,321.61 L1102.91,319.45 L1103.18,317.31 L1103.57,315.2 L1103.97,313.13 L1104.09,311.07 L1104.28,309.07 L1104.53,306.65 L1105.01,304.39 L1105.33,302.25 L1105.78,300.16 L1106.31,297.85 L1106.4,295.72 L1106.85,293.37 L1107.04,291.14 L1107.48,288.98 L1107.89,286.72 L1107.93,284.68 L1108.48,282.53 L1108.85,280.32 L1109.37,278.06 L1110.18,275.78 L1110.63,273.36 L1110.96,271.37 L1111.79,269.46 L1112.03,267.4 L1112.43,265.34 L1112.62,263.23 L1113.51,261.24 L1113.75,259.12 L1114,257.05 L1114.11,254.56 L1114.28,252.52 L1114.58,250.45 L1115.2,248.4 L1115.78,246.33 L1116.08,244.2 L1116.24,242.05 L1116.71,239.98 L1117.07,237.93 L1117.37,235.92 L1117.66,233.47 L1117.96,231.16 L1118.67,229.06 L1119.19,226.68 L1119.56,224.45 L1119.99,222.38 L1120.07,219.89 L1120.59,217.58 L1120.46,215.24 L1120.7,212.94 L1121.21,210.63 L1121.66,208.64 L1122.07,206.57 L1122.55,204.51 L1123.11,202.47 L1123.86,200.52 L1124.55,198.61 L1125.63,196.39 L1126.28,194.19 L1126.99,191.83 L1127.85,189.96 L1128.24,187.63 L1129.01,185.53 L1130.06,183.26 L1130.37,181.03 L1131.15,178.8 L1131.93,176.86 L1132.37,174.67 L1133.33,172.6 L1133.96,170.43 L1134.99,168.48 L1136.01,166.69 L1137.04,164.69 L1138.41,162.63 L1139.53,160.52 L1141.2,159.27 L1142.8,157.74 L1144.46,155.86 L1146.59,155.71 L1148.77,155.88 L1150.06,154.21 L1150.99,152.08 L1152.07,149.85 L1153.17,147.92 L1153.7,145.7 L1154.5,143.57 L1155.78,141.72 L1156.77,139.98 L1157.61,138.11 L1158.27,135.98 L1159.05,134.04 L1159.91,131.69 L1161.25,129.68 L1162.78,127.83 L1164.29,125.85 L1166.07,124.19 L1168.02,122.7 L1169.6,121.47 L1171.21,120.09 L1172.42,117.98 L1173.75,116.52 L1174.52,114.5 L1176.06,112.95 L1178.16,111.8 L1179.66,110.3 L1180.73,108.61 L1182.52,106.83 L1184.38,105.62 L1186.04,104.34 L1186.97,102.33 L1189.11,101.16 L1190.82,99.64 L1192.46,98.21 L1194.53,97.85 L1196.93,97.25 L1199.23,96.25 L1201.1,95.53 L1202.87,94.45 L1204.78,93.54 L1206.86,92.97 L1208.53,91.86 L1210.58,90.46 L1212.37,88.88 L1214.39,87.38 L1216.68,86.71 L1218.82,86.04 L1221.11,85.14 L1222.94,84 L1225.09,83.47 L1227.28,82.87 L1229.35,82.15 L1231.64,81.34 L1233.51,80.51 L1235.57,80.14 L1237.6,79.59 L1239.71,79.26 L1241.65,78.3 L1243.58,77.42 L1245.5,76.63 L1247.54,76.37 L1249.56,76.1 L1251.59,75.91 L1253.64,75.79 L1255.58,75.21 L1257.6,75 L1259.58,74.57 L1261.52,73.98 L1263.58,73.97 L1265.56,73.53 L1267.53,73.07 L1269.48,72.48 L1271.48,72.19 L1273.43,71.68 L1275.4,71.29 L1277.32,70.6 L1279.36,70.46 L1281.84,70.15 L1284.33,69.85 L1286.31,69.45 L1288.33,69.11 L1290.3,68.19 L1292.39,67.89 L1294.69,67.41 L1297,66.96 L1299.4,66.75 L1301.85,66.37 L1303.84,65.82 L1305.97,65.45 L1308.25,65.24 L1310.47,64.92 L1312.66,64.69 L1314.94,64.44 L1317.29,64.09 L1319.74,63.89 L1321.74,63.67 L1323.79,63.48 L1325.88,63.44 L1327.99,63.14 L1330.16,63.2 L1332.33,62.98 L1334.54,62.91 L1336.66,62.71 L1338.99,62.35 L1341.4,62.39 L1343.87,62.43 L1346.36,62.21 L1348.38,62.19 L1350.43,62.19 L1352.48,62.07 L1354.54,61.85 L1356.61,61.77 L1358.68,61.67 L1360.75,61.48 L1362.82,61.36 L1364.87,61.23 L1366.92,61.27 L1368.95,61.33 L1370.94,61.08 L1372.94,60.95 L1374.93,60.74 L1376.94,60.58 L1378.94,60.42 L1380.95,60.29 L1382.96,60.17 L1384.96,59.99 L1386.98,59.95 L1389,59.93 L1391.01,59.84 L1393.01,59.58 L1395.01,59.36 L1397.03,59.34 L1399.04,59.22 L1401.05,59.24 L1403.55,59.21 L1406.02,59.02 L1408.49,58.8 L1410.95,58.57 L1413.42,58.52 L1415.89,58.42 L1418.37,58.26 L1420.87,58.13 L1422.88,57.99 L1424.91,58.03 L1426.96,58.04 L1429.03,58.03 L1431.11,57.86 L1433.15,57.86 L1435.2,57.83 L1437.36,57.7 L1439.6,57.57 L1441.91,57.54 L1444.25,57.51 L1446.62,57.6 L1448.98,57.57 L1451.31,57.53 L1453.6,57.48 L1455.82,57.44 L1457.95,57.39 L1459.96,57.28 L1462.29,57.26 L1464.37,57.21 L1466.47,57.19 L1467.6,57.2" fill="none" stroke="#8172B3" stroke-width="3.0" stroke-linejoin="round" stroke-linecap="round"/>
<line x1="1098.5" y1="426.7" x2="1467.6" y2="57.2" stroke="#000" stroke-width="1.2" stroke-dasharray="4.4 2.1"/>
<rect x="1224.6" y="274.9" width="252.9" height="161.1" rx="3.5" ry="3.5" fill="#EAEAF2" fill-opacity="0.8" stroke="#CCCCCC" stroke-opacity="0.85" stroke-width="1.3"/>
<text x="1351.05" y="296.0" font-size="17.7" text-anchor="middle">Class</text>
<line x1="1231.8" y1="315.3" x2="1267" y2="315.3" stroke="#4C72B0" stroke-width="3.0" stroke-linecap="round"/>
<text x="1281.3" y="321.9" font-size="17.7">Multiview</text>
<line x1="1231.8" y1="341.3" x2="1267" y2="341.3" stroke="#DD8452" stroke-width="3.0" stroke-linecap="round"/>
<text x="1281.3" y="347.9" font-size="17.7">A4c</text>
<line x1="1231.8" y1="367.3" x2="1267" y2="367.3" stroke="#55A868" stroke-width="3.0" stroke-linecap="round"/>
<text x="1281.3" y="373.9" font-size="17.7">A5c</text>
<line x1="1231.8" y1="393.3" x2="1267" y2="393.3" stroke="#C44E52" stroke-width="3.0" stroke-linecap="round"/>
<text x="1281.3" y="399.9" font-size="17.7">PLAX</text>
<line x1="1231.8" y1="419.3" x2="1267" y2="419.3" stroke="#8172B3" stroke-width="3.0" stroke-linecap="round"/>
<text x="1281.3" y="425.9" font-size="17.7">Averaged single-view</text>
<text x="1098.5" y="469.2" font-size="15.3" text-anchor="middle">0.0</text>
<text x="1068.2" y="432.9" font-size="15.3" text-anchor="end">0.0</text>
<text x="1172.32" y="469.2" font-size="15.3" text-anchor="middle">0.2</text>
<text x="1068.2" y="359" font-size="15.3" text-anchor="end">0.2</text>
<text x="1246.14" y="469.2" font-size="15.3" text-anchor="middle">0.4</text>
<text x="1068.2" y="285.1" font-size="15.3" text-anchor="end">0.4</text>
<text x="1319.96" y="469.2" font-size="15.3" text-anchor="middle">0.6</text>
<text x="1068.2" y="211.2" font-size="15.3" text-anchor="end">0.6</text>
<text x="1393.78" y="469.2" font-size="15.3" text-anchor="middle">0.8</text>
<text x="1068.2" y="137.3" font-size="15.3" text-anchor="end">0.8</text>
<text x="1467.6" y="469.2" font-size="15.3" text-anchor="middle">1.0</text>
<text x="1068.2" y="63.4" font-size="15.3" text-anchor="end">1.0</text>
<text x="1282.95" y="494.8" font-size="22.8" text-anchor="middle">1 - Specificity</text>
<text transform="translate(1034,241.75) rotate(-90)" x="0" y="0" font-size="22.8" text-anchor="middle">Sensitivity</text>
<text x="1161.97" y="28.8" font-size="22.5" style="fill:#000">(</text>
<text x="1171.14" y="27.6" font-size="21.0" style="fill:#000">c</text>
<text x="1182.6" y="28.8" font-size="22.5" style="fill:#000">)</text>
<text x="1200.13" y="27.6" font-size="21.0" style="fill:#000">Valve</text>
<text x="1263.14" y="27.6" font-size="21.0" style="fill:#000">Regurgitation</text>
</g>
</svg></body></html>
